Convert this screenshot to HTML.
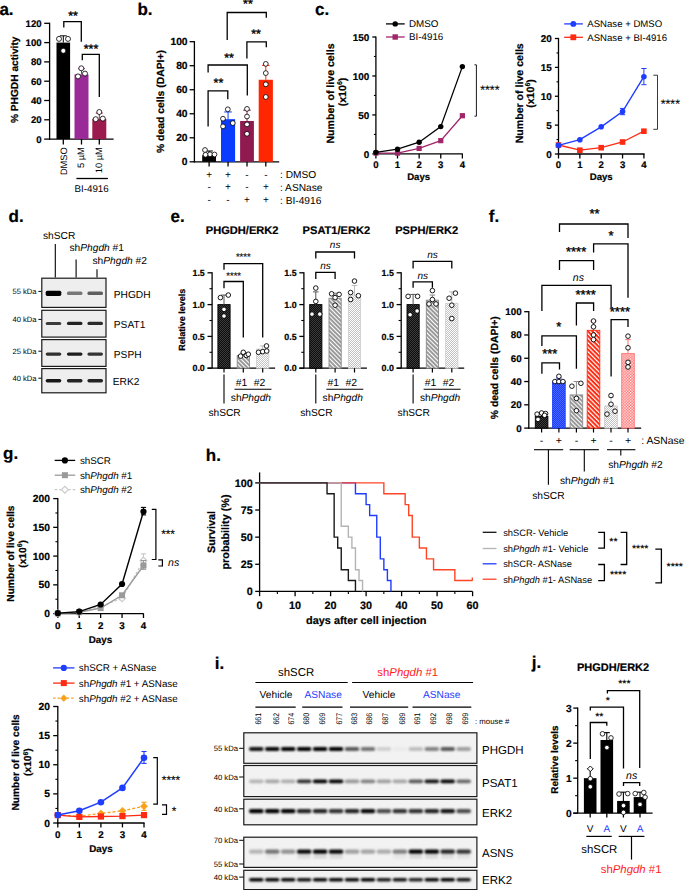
<!DOCTYPE html>
<html><head><meta charset="utf-8"><style>
html,body{margin:0;padding:0;background:#fff;width:685px;height:890px;overflow:hidden}
svg{display:block}
text{font-family:"Liberation Sans",sans-serif;text-rendering:geometricPrecision}
</style></head><body>
<svg width="685" height="890" viewBox="0 0 685 890">
<defs>
<filter id="bl1" x="-30%" y="-100%" width="160%" height="300%"><feGaussianBlur stdDeviation="0.9 0.7"/></filter>
<filter id="bl2" x="-30%" y="-100%" width="160%" height="300%"><feGaussianBlur stdDeviation="0.7 0.5"/></filter>
<filter id="bl3" x="-30%" y="-100%" width="160%" height="300%"><feGaussianBlur stdDeviation="0.9 0.8"/></filter>

<pattern id="pDark" width="2" height="2" patternUnits="userSpaceOnUse"><rect width="2" height="2" fill="#0d0d0d"/><rect width="1" height="1" fill="#3c3c3c"/><rect x="1" y="1" width="1" height="1" fill="#3c3c3c"/></pattern>
<pattern id="pHatchG" width="3" height="3" patternUnits="userSpaceOnUse" patternTransform="rotate(-45)"><rect width="3" height="3" fill="#9a9a9a"/><rect width="1.0" height="3" fill="#fff"/></pattern>
<pattern id="pCheckL" width="2" height="2" patternUnits="userSpaceOnUse"><rect width="2" height="2" fill="#c2c2c2"/><rect width="1" height="1" fill="#fff"/><rect x="1" y="1" width="1" height="1" fill="#fff"/></pattern>
<pattern id="pBlue" width="2" height="2" patternUnits="userSpaceOnUse"><rect width="2" height="2" fill="#1a3cff"/><rect width="1" height="1" fill="#4d68ff"/><rect x="1" y="1" width="1" height="1" fill="#4d68ff"/></pattern>
<pattern id="pHatchR" width="3.2" height="3.2" patternUnits="userSpaceOnUse" patternTransform="rotate(-45)"><rect width="3.2" height="3.2" fill="#ff2a10"/><rect width="1.2" height="3.2" fill="#fff"/></pattern>
<pattern id="pCheckP" width="2.8" height="2.8" patternUnits="userSpaceOnUse"><rect width="2.8" height="2.8" fill="#ff6a6a"/><rect width="1.3" height="1.3" fill="#fff"/><rect x="1.4" y="1.4" width="1.3" height="1.3" fill="#fff"/></pattern>
<pattern id="pCheckLL" width="2" height="2" patternUnits="userSpaceOnUse"><rect width="2" height="2" fill="#c2c2c2"/><rect width="1" height="1" fill="#fff"/><rect x="1" y="1" width="1" height="1" fill="#fff"/></pattern>
</defs>
<text x="-0.6" y="14.8" font-size="17" text-anchor="start" fill="#000" stroke="#000" stroke-width="0.2" font-weight="bold" >a.</text>
<line x1="49.6" y1="22.7" x2="49.6" y2="139.7" stroke="#000" stroke-width="1.3" />
<line x1="44.2" y1="139.1" x2="49.6" y2="139.1" stroke="#000" stroke-width="1.3" />
<text x="41.6" y="142.5" font-size="9.6" text-anchor="end" fill="#000" stroke="#000" stroke-width="0.2" font-weight="bold" >0</text>
<line x1="44.2" y1="119.8" x2="49.6" y2="119.8" stroke="#000" stroke-width="1.3" />
<text x="41.6" y="123.2" font-size="9.6" text-anchor="end" fill="#000" stroke="#000" stroke-width="0.2" font-weight="bold" >20</text>
<line x1="44.2" y1="100.5" x2="49.6" y2="100.5" stroke="#000" stroke-width="1.3" />
<text x="41.6" y="103.9" font-size="9.6" text-anchor="end" fill="#000" stroke="#000" stroke-width="0.2" font-weight="bold" >40</text>
<line x1="44.2" y1="81.2" x2="49.6" y2="81.2" stroke="#000" stroke-width="1.3" />
<text x="41.6" y="84.6" font-size="9.6" text-anchor="end" fill="#000" stroke="#000" stroke-width="0.2" font-weight="bold" >60</text>
<line x1="44.2" y1="61.9" x2="49.6" y2="61.9" stroke="#000" stroke-width="1.3" />
<text x="41.6" y="65.3" font-size="9.6" text-anchor="end" fill="#000" stroke="#000" stroke-width="0.2" font-weight="bold" >80</text>
<line x1="44.2" y1="42.6" x2="49.6" y2="42.6" stroke="#000" stroke-width="1.3" />
<text x="41.6" y="46" font-size="9.6" text-anchor="end" fill="#000" stroke="#000" stroke-width="0.2" font-weight="bold" >100</text>
<line x1="44.2" y1="23.3" x2="49.6" y2="23.3" stroke="#000" stroke-width="1.3" />
<text x="41.6" y="26.7" font-size="9.6" text-anchor="end" fill="#000" stroke="#000" stroke-width="0.2" font-weight="bold" >120</text>
<line x1="49" y1="139.1" x2="113.6" y2="139.1" stroke="#000" stroke-width="1.3" />
<text x="18.2" y="79.8" font-size="10.2" text-anchor="middle" fill="#000" stroke="#000" stroke-width="0.2" font-weight="bold" transform="rotate(-90 18.2 79.8)" >% PHGDH activity</text>
<rect x="56.5" y="42.6" width="13.6" height="96.5" fill="#000" stroke="none" stroke-width="0" />
<line x1="63.3" y1="42.6" x2="63.3" y2="35.84" stroke="#000" stroke-width="1" />
<line x1="59.8" y1="35.84" x2="66.8" y2="35.84" stroke="#000" stroke-width="1" />
<line x1="63.3" y1="139.1" x2="63.3" y2="144.5" stroke="#000" stroke-width="1.3" />
<rect x="74.5" y="74.44" width="14" height="64.66" fill="#9a2a98" stroke="none" stroke-width="0" />
<line x1="81.5" y1="74.44" x2="81.5" y2="68.66" stroke="#9a2a98" stroke-width="1" />
<line x1="78" y1="68.66" x2="85" y2="68.66" stroke="#9a2a98" stroke-width="1" />
<line x1="81.5" y1="139.1" x2="81.5" y2="144.5" stroke="#000" stroke-width="1.3" />
<rect x="92.3" y="118.83" width="14" height="20.27" fill="#9b1b4e" stroke="none" stroke-width="0" />
<line x1="99.3" y1="118.83" x2="99.3" y2="113.04" stroke="#9b1b4e" stroke-width="1" />
<line x1="95.8" y1="113.04" x2="102.8" y2="113.04" stroke="#9b1b4e" stroke-width="1" />
<line x1="99.3" y1="139.1" x2="99.3" y2="144.5" stroke="#000" stroke-width="1.3" />
<circle cx="59" cy="38.9" r="2.5" fill="#fff" stroke="#000" stroke-width="0.8"/>
<circle cx="68" cy="38.9" r="2.5" fill="#fff" stroke="#000" stroke-width="0.8"/>
<circle cx="63.3" cy="50.8" r="2.5" fill="#fff" stroke="#000" stroke-width="0.8"/>
<circle cx="81.3" cy="68.3" r="2.5" fill="#fff" stroke="#000" stroke-width="0.8"/>
<circle cx="78" cy="76.4" r="2.5" fill="#fff" stroke="#000" stroke-width="0.8"/>
<circle cx="85" cy="73.6" r="2.5" fill="#fff" stroke="#000" stroke-width="0.8"/>
<circle cx="99.3" cy="112" r="2.5" fill="#fff" stroke="#000" stroke-width="0.8"/>
<circle cx="95.7" cy="119.2" r="2.5" fill="#fff" stroke="#000" stroke-width="0.8"/>
<circle cx="102.8" cy="118.6" r="2.5" fill="#fff" stroke="#000" stroke-width="0.8"/>
<text x="66.8" y="147.2" font-size="9.3" text-anchor="end" fill="#000" stroke="#000" stroke-width="0.0" transform="rotate(-90 66.8 147.2)" >DMSO</text>
<text x="84.1" y="147.2" font-size="9.3" text-anchor="end" fill="#000" stroke="#000" stroke-width="0.0" transform="rotate(-90 84.1 147.2)" >5 µM</text>
<text x="102.1" y="147.2" font-size="9.3" text-anchor="end" fill="#000" stroke="#000" stroke-width="0.0" transform="rotate(-90 102.1 147.2)" >10 µM</text>
<line x1="76.4" y1="178.5" x2="107.9" y2="178.5" stroke="#000" stroke-width="1.3" />
<text x="91.6" y="191.6" font-size="9.8" text-anchor="middle" fill="#000" stroke="#000" stroke-width="0.0" >BI-4916</text>
<polyline points="63.8,27.6 63.8,21.7 81.3,21.7 81.3,41.8" fill="none" stroke="#000" stroke-width="1.3" stroke-linejoin="miter" />
<text x="73" y="19.9" font-size="12.5" text-anchor="middle" fill="#000" stroke="#000" stroke-width="0.35" >**</text>
<polyline points="82.3,60.3 82.3,54.4 99.3,54.4 99.3,97" fill="none" stroke="#000" stroke-width="1.3" stroke-linejoin="miter" />
<text x="91" y="53" font-size="12.5" text-anchor="middle" fill="#000" stroke="#000" stroke-width="0.35" >***</text>
<text x="137.4" y="14.6" font-size="17" text-anchor="start" fill="#000" stroke="#000" stroke-width="0.2" font-weight="bold" >b.</text>
<line x1="194.4" y1="41.1" x2="194.4" y2="162.4" stroke="#000" stroke-width="1.3" />
<line x1="189.6" y1="161.8" x2="194.4" y2="161.8" stroke="#000" stroke-width="1.3" />
<text x="187.6" y="165.4" font-size="10.3" text-anchor="end" fill="#000" stroke="#000" stroke-width="0.2" font-weight="bold" >0</text>
<line x1="189.6" y1="137.78" x2="194.4" y2="137.78" stroke="#000" stroke-width="1.3" />
<text x="187.6" y="141.38" font-size="10.3" text-anchor="end" fill="#000" stroke="#000" stroke-width="0.2" font-weight="bold" >20</text>
<line x1="189.6" y1="113.76" x2="194.4" y2="113.76" stroke="#000" stroke-width="1.3" />
<text x="187.6" y="117.36" font-size="10.3" text-anchor="end" fill="#000" stroke="#000" stroke-width="0.2" font-weight="bold" >40</text>
<line x1="189.6" y1="89.74" x2="194.4" y2="89.74" stroke="#000" stroke-width="1.3" />
<text x="187.6" y="93.34" font-size="10.3" text-anchor="end" fill="#000" stroke="#000" stroke-width="0.2" font-weight="bold" >60</text>
<line x1="189.6" y1="65.72" x2="194.4" y2="65.72" stroke="#000" stroke-width="1.3" />
<text x="187.6" y="69.32" font-size="10.3" text-anchor="end" fill="#000" stroke="#000" stroke-width="0.2" font-weight="bold" >80</text>
<line x1="189.6" y1="41.7" x2="194.4" y2="41.7" stroke="#000" stroke-width="1.3" />
<text x="187.6" y="45.3" font-size="10.3" text-anchor="end" fill="#000" stroke="#000" stroke-width="0.2" font-weight="bold" >100</text>
<line x1="193.8" y1="161.8" x2="279.2" y2="161.8" stroke="#000" stroke-width="1.3" />
<text x="164" y="101.5" font-size="10.4" text-anchor="middle" fill="#000" stroke="#000" stroke-width="0.2" font-weight="bold" transform="rotate(-90 164 101.5)" >% dead cells (DAPI+)</text>
<rect x="202.2" y="155.19" width="13.8" height="6.61" fill="#000" stroke="none" stroke-width="0" />
<line x1="209.1" y1="155.19" x2="209.1" y2="150.99" stroke="#000" stroke-width="1" />
<line x1="205.3" y1="150.99" x2="212.9" y2="150.99" stroke="#000" stroke-width="1" />
<line x1="209.1" y1="161.8" x2="209.1" y2="166.5" stroke="#000" stroke-width="1.3" />
<circle cx="205" cy="150" r="2.4" fill="#fff" stroke="#000" stroke-width="0.8"/>
<circle cx="210" cy="154.3" r="2.4" fill="#fff" stroke="#000" stroke-width="0.8"/>
<circle cx="214.5" cy="154.5" r="2.4" fill="#fff" stroke="#000" stroke-width="0.8"/>
<circle cx="205.5" cy="154.8" r="2.4" fill="#fff" stroke="#000" stroke-width="0.8"/>
<rect x="221" y="119.16" width="14.1" height="42.64" fill="#0a3cff" stroke="none" stroke-width="0" />
<line x1="228.05" y1="119.16" x2="228.05" y2="111.96" stroke="#0a3cff" stroke-width="1" />
<line x1="224.25" y1="111.96" x2="231.85" y2="111.96" stroke="#0a3cff" stroke-width="1" />
<line x1="228.05" y1="161.8" x2="228.05" y2="166.5" stroke="#000" stroke-width="1.3" />
<circle cx="227.8" cy="109.3" r="2.4" fill="#fff" stroke="#000" stroke-width="0.8"/>
<circle cx="223" cy="118.7" r="2.4" fill="#fff" stroke="#000" stroke-width="0.8"/>
<circle cx="232.8" cy="123.1" r="2.4" fill="#fff" stroke="#000" stroke-width="0.8"/>
<circle cx="223" cy="126.4" r="2.4" fill="#fff" stroke="#000" stroke-width="0.8"/>
<rect x="240.1" y="120.97" width="13.8" height="40.83" fill="#8e1a50" stroke="none" stroke-width="0" />
<line x1="247" y1="120.97" x2="247" y2="110.16" stroke="#8e1a50" stroke-width="1" />
<line x1="243.2" y1="110.16" x2="250.8" y2="110.16" stroke="#8e1a50" stroke-width="1" />
<line x1="247" y1="161.8" x2="247" y2="166.5" stroke="#000" stroke-width="1.3" />
<circle cx="247" cy="108.9" r="2.4" fill="#fff" stroke="#000" stroke-width="0.8"/>
<circle cx="247" cy="116.5" r="2.4" fill="#fff" stroke="#000" stroke-width="0.8"/>
<circle cx="247" cy="124.4" r="2.4" fill="#fff" stroke="#000" stroke-width="0.8"/>
<circle cx="247" cy="133.8" r="2.4" fill="#fff" stroke="#000" stroke-width="0.8"/>
<rect x="258.7" y="79.77" width="14.2" height="82.03" fill="#ff2600" stroke="none" stroke-width="0" />
<line x1="265.8" y1="79.77" x2="265.8" y2="65.36" stroke="#ff2600" stroke-width="1" />
<line x1="262" y1="65.36" x2="269.6" y2="65.36" stroke="#ff2600" stroke-width="1" />
<line x1="265.8" y1="161.8" x2="265.8" y2="166.5" stroke="#000" stroke-width="1.3" />
<circle cx="265.8" cy="63.9" r="2.4" fill="#fff" stroke="#000" stroke-width="0.8"/>
<circle cx="265.8" cy="73.1" r="2.4" fill="#fff" stroke="#000" stroke-width="0.8"/>
<circle cx="265.8" cy="84.3" r="2.4" fill="#fff" stroke="#000" stroke-width="0.8"/>
<circle cx="265.8" cy="97" r="2.4" fill="#fff" stroke="#000" stroke-width="0.8"/>
<text x="209.1" y="177.8" font-size="10" text-anchor="middle" fill="#000" stroke="#000" stroke-width="0.0" >+</text>
<text x="228" y="177.8" font-size="10" text-anchor="middle" fill="#000" stroke="#000" stroke-width="0.0" >+</text>
<text x="247" y="177.8" font-size="10" text-anchor="middle" fill="#000" stroke="#000" stroke-width="0.0" >-</text>
<text x="265.8" y="177.8" font-size="10" text-anchor="middle" fill="#000" stroke="#000" stroke-width="0.0" >-</text>
<text x="280" y="178.1" font-size="10.2" text-anchor="start" fill="#000" stroke="#000" stroke-width="0.0" >: DMSO</text>
<text x="209.1" y="190.3" font-size="10" text-anchor="middle" fill="#000" stroke="#000" stroke-width="0.0" >-</text>
<text x="228" y="190.3" font-size="10" text-anchor="middle" fill="#000" stroke="#000" stroke-width="0.0" >+</text>
<text x="247" y="190.3" font-size="10" text-anchor="middle" fill="#000" stroke="#000" stroke-width="0.0" >-</text>
<text x="265.8" y="190.3" font-size="10" text-anchor="middle" fill="#000" stroke="#000" stroke-width="0.0" >+</text>
<text x="280" y="190.6" font-size="10.2" text-anchor="start" fill="#000" stroke="#000" stroke-width="0.0" >: ASNase</text>
<text x="209.1" y="203.3" font-size="10" text-anchor="middle" fill="#000" stroke="#000" stroke-width="0.0" >-</text>
<text x="228" y="203.3" font-size="10" text-anchor="middle" fill="#000" stroke="#000" stroke-width="0.0" >-</text>
<text x="247" y="203.3" font-size="10" text-anchor="middle" fill="#000" stroke="#000" stroke-width="0.0" >+</text>
<text x="265.8" y="203.3" font-size="10" text-anchor="middle" fill="#000" stroke="#000" stroke-width="0.0" >+</text>
<text x="280" y="203.6" font-size="10.2" text-anchor="start" fill="#000" stroke="#000" stroke-width="0.0" >: BI-4916</text>
<polyline points="227.2,40 227.2,12.5 266.3,12.5 266.3,17.7" fill="none" stroke="#000" stroke-width="1.3" stroke-linejoin="miter" />
<text x="247.9" y="7.6" font-size="12.5" text-anchor="middle" fill="#000" stroke="#000" stroke-width="0.35" >**</text>
<polyline points="246.9,58.4 246.9,41.8 266.3,41.8 266.3,47.3" fill="none" stroke="#000" stroke-width="1.3" stroke-linejoin="miter" />
<text x="256" y="38" font-size="12.5" text-anchor="middle" fill="#000" stroke="#000" stroke-width="0.35" >**</text>
<polyline points="208.1,72.5 208.1,65 247.3,65 247.3,95.5" fill="none" stroke="#000" stroke-width="1.3" stroke-linejoin="miter" />
<text x="229" y="61.8" font-size="12.5" text-anchor="middle" fill="#000" stroke="#000" stroke-width="0.35" >**</text>
<polyline points="208.1,126.4 208.1,90.9 227.8,90.9 227.8,99.2" fill="none" stroke="#000" stroke-width="1.3" stroke-linejoin="miter" />
<text x="218.4" y="87.3" font-size="12.5" text-anchor="middle" fill="#000" stroke="#000" stroke-width="0.35" >**</text>
<text x="315" y="14.6" font-size="17" text-anchor="start" fill="#000" stroke="#000" stroke-width="0.2" font-weight="bold" >c.</text>
<line x1="375.9" y1="36.4" x2="375.9" y2="154.5" stroke="#000" stroke-width="1.3" />
<line x1="372.3" y1="153.9" x2="375.9" y2="153.9" stroke="#000" stroke-width="1.3" />
<text x="369.2" y="157.5" font-size="9.9" text-anchor="end" fill="#000" stroke="#000" stroke-width="0.2" font-weight="bold" >0</text>
<line x1="373.9" y1="134.42" x2="375.9" y2="134.42" stroke="#000" stroke-width="1.1" />
<line x1="372.3" y1="114.93" x2="375.9" y2="114.93" stroke="#000" stroke-width="1.3" />
<text x="369.2" y="118.53" font-size="9.9" text-anchor="end" fill="#000" stroke="#000" stroke-width="0.2" font-weight="bold" >50</text>
<line x1="373.9" y1="95.45" x2="375.9" y2="95.45" stroke="#000" stroke-width="1.1" />
<line x1="372.3" y1="75.97" x2="375.9" y2="75.97" stroke="#000" stroke-width="1.3" />
<text x="369.2" y="79.57" font-size="9.9" text-anchor="end" fill="#000" stroke="#000" stroke-width="0.2" font-weight="bold" >100</text>
<line x1="373.9" y1="56.48" x2="375.9" y2="56.48" stroke="#000" stroke-width="1.1" />
<line x1="372.3" y1="37" x2="375.9" y2="37" stroke="#000" stroke-width="1.3" />
<text x="369.2" y="40.6" font-size="9.9" text-anchor="end" fill="#000" stroke="#000" stroke-width="0.2" font-weight="bold" >150</text>
<line x1="375.3" y1="153.9" x2="462.8" y2="153.9" stroke="#000" stroke-width="1.3" />
<line x1="375.9" y1="153.9" x2="375.9" y2="158.5" stroke="#000" stroke-width="1.3" />
<text x="375.9" y="167.8" font-size="9.6" text-anchor="middle" fill="#000" stroke="#000" stroke-width="0.2" font-weight="bold" >0</text>
<line x1="397.52" y1="153.9" x2="397.52" y2="158.5" stroke="#000" stroke-width="1.3" />
<text x="397.52" y="167.8" font-size="9.6" text-anchor="middle" fill="#000" stroke="#000" stroke-width="0.2" font-weight="bold" >1</text>
<line x1="419.14" y1="153.9" x2="419.14" y2="158.5" stroke="#000" stroke-width="1.3" />
<text x="419.14" y="167.8" font-size="9.6" text-anchor="middle" fill="#000" stroke="#000" stroke-width="0.2" font-weight="bold" >2</text>
<line x1="440.76" y1="153.9" x2="440.76" y2="158.5" stroke="#000" stroke-width="1.3" />
<text x="440.76" y="167.8" font-size="9.6" text-anchor="middle" fill="#000" stroke="#000" stroke-width="0.2" font-weight="bold" >3</text>
<line x1="462.38" y1="153.9" x2="462.38" y2="158.5" stroke="#000" stroke-width="1.3" />
<text x="462.38" y="167.8" font-size="9.6" text-anchor="middle" fill="#000" stroke="#000" stroke-width="0.2" font-weight="bold" >4</text>
<text x="418.6" y="180" font-size="9.6" text-anchor="middle" fill="#000" stroke="#000" stroke-width="0.2" font-weight="bold" >Days</text>
<text x="333.9" y="93.5" font-size="10.6" text-anchor="middle" fill="#000" stroke="#000" stroke-width="0.2" font-weight="bold" transform="rotate(-90 333.9 93.5)" >Number of live cells</text>
<text x="345.9" y="92" font-size="10.6" text-anchor="middle" fill="#000" stroke="#000" stroke-width="0.2" font-weight="bold" transform="rotate(-90 345.9 92)" >(x10<tspan font-size="7" dy="-3.8">6</tspan><tspan dy="3.8">)</tspan></text>
<polyline points="375.9,153.12 397.52,153.12 419.14,148.44 440.76,140.65 462.38,115.71" fill="none" stroke="#a0266a" stroke-width="1.3" stroke-linejoin="miter" />
<rect x="373.3" y="150.52" width="5.2" height="5.2" fill="#a0266a" stroke="none" stroke-width="0" />
<rect x="394.92" y="150.52" width="5.2" height="5.2" fill="#a0266a" stroke="none" stroke-width="0" />
<rect x="416.54" y="145.84" width="5.2" height="5.2" fill="#a0266a" stroke="none" stroke-width="0" />
<rect x="438.16" y="138.05" width="5.2" height="5.2" fill="#a0266a" stroke="none" stroke-width="0" />
<rect x="459.78" y="113.11" width="5.2" height="5.2" fill="#a0266a" stroke="none" stroke-width="0" />
<polyline points="375.9,152.34 397.52,149.22 419.14,142.21 440.76,126.62 462.38,66.61" fill="none" stroke="#000" stroke-width="1.3" stroke-linejoin="miter" />
<circle cx="375.9" cy="152.34" r="2.7" fill="#000" stroke="#000" stroke-width="0"/>
<circle cx="397.52" cy="149.22" r="2.7" fill="#000" stroke="#000" stroke-width="0"/>
<circle cx="419.14" cy="142.21" r="2.7" fill="#000" stroke="#000" stroke-width="0"/>
<circle cx="440.76" cy="126.62" r="2.7" fill="#000" stroke="#000" stroke-width="0"/>
<circle cx="462.38" cy="66.61" r="2.7" fill="#000" stroke="#000" stroke-width="0"/>
<line x1="386" y1="23.9" x2="404.7" y2="23.9" stroke="#000" stroke-width="1.3" />
<circle cx="395.2" cy="23.9" r="2.7" fill="#000" stroke="#000" stroke-width="0"/>
<text x="409" y="27.3" font-size="9.8" text-anchor="start" fill="#000" stroke="#000" stroke-width="0.0" >DMSO</text>
<line x1="386" y1="37" x2="404.7" y2="37" stroke="#a0266a" stroke-width="1.3" />
<rect x="392.5" y="34.3" width="5.4" height="5.4" fill="#a0266a" stroke="none" stroke-width="0" />
<text x="409" y="40.4" font-size="9.8" text-anchor="start" fill="#000" stroke="#000" stroke-width="0.0" >BI-4916</text>
<polyline points="474.5,64.8 476.4,64.8 476.4,116.2 474.5,116.2" fill="none" stroke="#000" stroke-width="0.9" stroke-linejoin="miter" />
<text x="480.3" y="93.8" font-size="12.3" text-anchor="start" fill="#000" stroke="#000" stroke-width="0.15" >****</text>
<line x1="558.5" y1="37.9" x2="558.5" y2="154.6" stroke="#000" stroke-width="1.3" />
<line x1="554.9" y1="154" x2="558.5" y2="154" stroke="#000" stroke-width="1.3" />
<text x="551.8" y="157.6" font-size="9.9" text-anchor="end" fill="#000" stroke="#000" stroke-width="0.2" font-weight="bold" >0</text>
<line x1="556.5" y1="139.56" x2="558.5" y2="139.56" stroke="#000" stroke-width="1.1" />
<line x1="554.9" y1="125.12" x2="558.5" y2="125.12" stroke="#000" stroke-width="1.3" />
<text x="551.8" y="128.72" font-size="9.9" text-anchor="end" fill="#000" stroke="#000" stroke-width="0.2" font-weight="bold" >5</text>
<line x1="556.5" y1="110.69" x2="558.5" y2="110.69" stroke="#000" stroke-width="1.1" />
<line x1="554.9" y1="96.25" x2="558.5" y2="96.25" stroke="#000" stroke-width="1.3" />
<text x="551.8" y="99.85" font-size="9.9" text-anchor="end" fill="#000" stroke="#000" stroke-width="0.2" font-weight="bold" >10</text>
<line x1="556.5" y1="81.81" x2="558.5" y2="81.81" stroke="#000" stroke-width="1.1" />
<line x1="554.9" y1="67.38" x2="558.5" y2="67.38" stroke="#000" stroke-width="1.3" />
<text x="551.8" y="70.97" font-size="9.9" text-anchor="end" fill="#000" stroke="#000" stroke-width="0.2" font-weight="bold" >15</text>
<line x1="556.5" y1="52.94" x2="558.5" y2="52.94" stroke="#000" stroke-width="1.1" />
<line x1="554.9" y1="38.5" x2="558.5" y2="38.5" stroke="#000" stroke-width="1.3" />
<text x="551.8" y="42.1" font-size="9.9" text-anchor="end" fill="#000" stroke="#000" stroke-width="0.2" font-weight="bold" >20</text>
<line x1="557.9" y1="154" x2="644.6" y2="154" stroke="#000" stroke-width="1.3" />
<line x1="558.5" y1="154" x2="558.5" y2="158.5" stroke="#000" stroke-width="1.3" />
<text x="558.5" y="167.8" font-size="9.6" text-anchor="middle" fill="#000" stroke="#000" stroke-width="0.2" font-weight="bold" >0</text>
<line x1="579.85" y1="154" x2="579.85" y2="158.5" stroke="#000" stroke-width="1.3" />
<text x="579.85" y="167.8" font-size="9.6" text-anchor="middle" fill="#000" stroke="#000" stroke-width="0.2" font-weight="bold" >1</text>
<line x1="601.2" y1="154" x2="601.2" y2="158.5" stroke="#000" stroke-width="1.3" />
<text x="601.2" y="167.8" font-size="9.6" text-anchor="middle" fill="#000" stroke="#000" stroke-width="0.2" font-weight="bold" >2</text>
<line x1="622.55" y1="154" x2="622.55" y2="158.5" stroke="#000" stroke-width="1.3" />
<text x="622.55" y="167.8" font-size="9.6" text-anchor="middle" fill="#000" stroke="#000" stroke-width="0.2" font-weight="bold" >3</text>
<line x1="643.9" y1="154" x2="643.9" y2="158.5" stroke="#000" stroke-width="1.3" />
<text x="643.9" y="167.8" font-size="9.6" text-anchor="middle" fill="#000" stroke="#000" stroke-width="0.2" font-weight="bold" >4</text>
<text x="601.2" y="180" font-size="9.6" text-anchor="middle" fill="#000" stroke="#000" stroke-width="0.2" font-weight="bold" >Days</text>
<text x="522.6" y="93.3" font-size="10.6" text-anchor="middle" fill="#000" stroke="#000" stroke-width="0.2" font-weight="bold" transform="rotate(-90 522.6 93.3)" >Number of live cells</text>
<text x="534.2" y="93.5" font-size="10.6" text-anchor="middle" fill="#000" stroke="#000" stroke-width="0.2" font-weight="bold" transform="rotate(-90 534.2 93.5)" >(x10<tspan font-size="7" dy="-3.8">6</tspan><tspan dy="3.8">)</tspan></text>
<polyline points="558.5,145 579.85,150.2 601.2,147.7 622.55,142 643.9,131.2" fill="none" stroke="#ff2a12" stroke-width="1.3" stroke-linejoin="miter" />
<rect x="555.7" y="142.2" width="5.6" height="5.6" fill="#ff2a12" stroke="none" stroke-width="0" />
<rect x="577.05" y="147.4" width="5.6" height="5.6" fill="#ff2a12" stroke="none" stroke-width="0" />
<rect x="598.4" y="144.9" width="5.6" height="5.6" fill="#ff2a12" stroke="none" stroke-width="0" />
<rect x="619.75" y="139.2" width="5.6" height="5.6" fill="#ff2a12" stroke="none" stroke-width="0" />
<rect x="641.1" y="128.4" width="5.6" height="5.6" fill="#ff2a12" stroke="none" stroke-width="0" />
<line x1="622.55" y1="108.4" x2="622.55" y2="114.7" stroke="#1f3dff" stroke-width="1" />
<line x1="619.95" y1="108.4" x2="625.15" y2="108.4" stroke="#1f3dff" stroke-width="1" />
<line x1="619.95" y1="114.7" x2="625.15" y2="114.7" stroke="#1f3dff" stroke-width="1" />
<line x1="643.9" y1="68.5" x2="643.9" y2="84.7" stroke="#1f3dff" stroke-width="1" />
<line x1="641.3" y1="68.5" x2="646.5" y2="68.5" stroke="#1f3dff" stroke-width="1" />
<line x1="641.3" y1="84.7" x2="646.5" y2="84.7" stroke="#1f3dff" stroke-width="1" />
<polyline points="558.5,145.4 579.85,139.7 601.2,126.8 622.55,111.6 643.9,76.7" fill="none" stroke="#1f3dff" stroke-width="1.4" stroke-linejoin="miter" />
<circle cx="558.5" cy="145.4" r="2.8" fill="#1f3dff" stroke="#000" stroke-width="0"/>
<circle cx="579.85" cy="139.7" r="2.8" fill="#1f3dff" stroke="#000" stroke-width="0"/>
<circle cx="601.2" cy="126.8" r="2.8" fill="#1f3dff" stroke="#000" stroke-width="0"/>
<circle cx="622.55" cy="111.6" r="2.8" fill="#1f3dff" stroke="#000" stroke-width="0"/>
<circle cx="643.9" cy="76.7" r="2.8" fill="#1f3dff" stroke="#000" stroke-width="0"/>
<line x1="564.2" y1="23.9" x2="582.9" y2="23.9" stroke="#1f3dff" stroke-width="1.3" />
<circle cx="573.3" cy="23.9" r="2.9" fill="#1f3dff" stroke="#000" stroke-width="0"/>
<text x="587.3" y="27.3" font-size="9.6" text-anchor="start" fill="#000" stroke="#000" stroke-width="0.0" >ASNase + DMSO</text>
<line x1="564.2" y1="37.3" x2="582.9" y2="37.3" stroke="#ff2a12" stroke-width="1.3" />
<rect x="570.4" y="34.4" width="5.8" height="5.8" fill="#ff2a12" stroke="none" stroke-width="0" />
<text x="587.3" y="40.7" font-size="9.6" text-anchor="start" fill="#000" stroke="#000" stroke-width="0.0" >ASNase + BI-4916</text>
<polyline points="653.3,75.2 657.5,75.2 657.5,129.3 653.3,129.3" fill="none" stroke="#222" stroke-width="0.9" stroke-linejoin="miter" />
<text x="660.8" y="107.5" font-size="12.3" text-anchor="start" fill="#000" stroke="#000" stroke-width="0.15" >****</text>
<text x="8.5" y="222" font-size="17" text-anchor="start" fill="#000" stroke="#000" stroke-width="0.2" font-weight="bold" >d.</text>
<text x="43" y="239.1" font-size="10.2" text-anchor="start" fill="#000" stroke="#000" stroke-width="0.0" >shSCR</text>
<text x="69.5" y="251" font-size="10.2" text-anchor="start" fill="#000" stroke="#000" stroke-width="0.0" >sh<tspan font-style="italic">Phgdh</tspan> #1</text>
<text x="92.5" y="264" font-size="10.2" text-anchor="start" fill="#000" stroke="#000" stroke-width="0.0" >sh<tspan font-style="italic">Phgdh</tspan> #2</text>
<line x1="55.3" y1="244" x2="55.3" y2="277.5" stroke="#000" stroke-width="1.1" />
<line x1="76.1" y1="259.5" x2="76.1" y2="277.5" stroke="#000" stroke-width="1.1" />
<line x1="97" y1="269.2" x2="97" y2="277.5" stroke="#000" stroke-width="1.1" />
<rect x="41.8" y="278.2" width="64.2" height="29.2" fill="#eeeeee" stroke="#1a1a1a" stroke-width="1.2" />
<rect x="45.7" y="290.7" width="15.6" height="5.2" rx="1.6" fill="#000" fill-opacity="1" filter="url(#bl2)"/>
<rect x="66.9" y="291.6" width="15.6" height="3.4" rx="1.6" fill="#000" fill-opacity="0.5" filter="url(#bl2)"/>
<rect x="87.4" y="291.6" width="15.6" height="3.4" rx="1.6" fill="#000" fill-opacity="0.6" filter="url(#bl2)"/>
<text x="113.8" y="298" font-size="10.2" text-anchor="start" fill="#000" stroke="#000" stroke-width="0.0" >PHGDH</text>
<line x1="38.4" y1="291.4" x2="41.5" y2="291.4" stroke="#000" stroke-width="1" />
<text x="36.5" y="294" font-size="7.6" text-anchor="end" fill="#000" stroke="#000" stroke-width="0.0" >55 kDa</text>
<rect x="41.8" y="310.3" width="64.2" height="26.8" fill="#eeeeee" stroke="#1a1a1a" stroke-width="1.2" />
<rect x="45.7" y="321.9" width="15.6" height="3" rx="1.6" fill="#000" fill-opacity="0.75" filter="url(#bl2)"/>
<rect x="66.9" y="321.8" width="15.6" height="3.2" rx="1.6" fill="#000" fill-opacity="0.85" filter="url(#bl2)"/>
<rect x="87.4" y="321.8" width="15.6" height="3.2" rx="1.6" fill="#000" fill-opacity="0.82" filter="url(#bl2)"/>
<text x="113.8" y="327.5" font-size="10.2" text-anchor="start" fill="#000" stroke="#000" stroke-width="0.0" >PSAT1</text>
<line x1="38.4" y1="319.4" x2="41.5" y2="319.4" stroke="#000" stroke-width="1" />
<text x="36.5" y="322" font-size="7.6" text-anchor="end" fill="#000" stroke="#000" stroke-width="0.0" >40 kDa</text>
<rect x="41.8" y="339.6" width="64.2" height="26.8" fill="#eeeeee" stroke="#1a1a1a" stroke-width="1.2" />
<rect x="45.7" y="352.5" width="15.6" height="3.2" rx="1.6" fill="#000" fill-opacity="0.8" filter="url(#bl2)"/>
<rect x="66.9" y="352.5" width="15.6" height="3.2" rx="1.6" fill="#000" fill-opacity="0.88" filter="url(#bl2)"/>
<rect x="87.4" y="352.5" width="15.6" height="3.2" rx="1.6" fill="#000" fill-opacity="0.78" filter="url(#bl2)"/>
<text x="113.8" y="358" font-size="10.2" text-anchor="start" fill="#000" stroke="#000" stroke-width="0.0" >PSPH</text>
<line x1="38.4" y1="351.2" x2="41.5" y2="351.2" stroke="#000" stroke-width="1" />
<text x="36.5" y="353.8" font-size="7.6" text-anchor="end" fill="#000" stroke="#000" stroke-width="0.0" >25 kDa</text>
<rect x="41.8" y="368.6" width="64.2" height="24.2" fill="#eeeeee" stroke="#1a1a1a" stroke-width="1.2" />
<rect x="45.7" y="378.95" width="15.6" height="3.5" rx="1.6" fill="#000" fill-opacity="0.9" filter="url(#bl2)"/>
<rect x="66.9" y="379" width="15.6" height="3.4" rx="1.6" fill="#000" fill-opacity="0.85" filter="url(#bl2)"/>
<rect x="87.4" y="379" width="15.6" height="3.4" rx="1.6" fill="#000" fill-opacity="0.85" filter="url(#bl2)"/>
<text x="112.8" y="385.1" font-size="10.2" text-anchor="start" fill="#000" stroke="#000" stroke-width="0.0" >ERK2</text>
<line x1="38.4" y1="378.2" x2="41.5" y2="378.2" stroke="#000" stroke-width="1" />
<text x="36.5" y="380.8" font-size="7.6" text-anchor="end" fill="#000" stroke="#000" stroke-width="0.0" >40 kDa</text>
<text x="170.5" y="222" font-size="17" text-anchor="start" fill="#000" stroke="#000" stroke-width="0.2" font-weight="bold" >e.</text>
<text x="205.8" y="233.6" font-size="11.1" text-anchor="start" fill="#000" stroke="#000" stroke-width="0.2" font-weight="bold" >PHGDH/ERK2</text>
<line x1="212.1" y1="272.2" x2="212.1" y2="368.2" stroke="#000" stroke-width="1.3" />
<line x1="207.5" y1="368.2" x2="212.1" y2="368.2" stroke="#000" stroke-width="1.3" />
<text x="204.8" y="371.4" font-size="8.9" text-anchor="end" fill="#000" stroke="#000" stroke-width="0.2" font-weight="bold" >0.0</text>
<line x1="209.5" y1="352.3" x2="212.1" y2="352.3" stroke="#000" stroke-width="1.1" />
<line x1="207.5" y1="336.4" x2="212.1" y2="336.4" stroke="#000" stroke-width="1.3" />
<text x="204.8" y="339.6" font-size="8.9" text-anchor="end" fill="#000" stroke="#000" stroke-width="0.2" font-weight="bold" >0.5</text>
<line x1="209.5" y1="320.5" x2="212.1" y2="320.5" stroke="#000" stroke-width="1.1" />
<line x1="207.5" y1="304.6" x2="212.1" y2="304.6" stroke="#000" stroke-width="1.3" />
<text x="204.8" y="307.8" font-size="8.9" text-anchor="end" fill="#000" stroke="#000" stroke-width="0.2" font-weight="bold" >1.0</text>
<line x1="209.5" y1="288.7" x2="212.1" y2="288.7" stroke="#000" stroke-width="1.1" />
<line x1="207.5" y1="272.8" x2="212.1" y2="272.8" stroke="#000" stroke-width="1.3" />
<text x="204.8" y="276" font-size="8.9" text-anchor="end" fill="#000" stroke="#000" stroke-width="0.2" font-weight="bold" >1.5</text>
<line x1="207.5" y1="368.2" x2="275.1" y2="368.2" stroke="#000" stroke-width="1.3" />
<rect x="217.9" y="304.6" width="12.2" height="63.6" fill="url(#pDark)" stroke="#000" stroke-width="0.9" />
<line x1="224" y1="304.6" x2="224" y2="295.06" stroke="#555" stroke-width="1" />
<line x1="221.2" y1="295.06" x2="226.8" y2="295.06" stroke="#555" stroke-width="1" />
<line x1="224" y1="368.2" x2="224" y2="372.5" stroke="#000" stroke-width="1.2" />
<circle cx="220.4" cy="297.6" r="2.3" fill="#fff" stroke="#000" stroke-width="0.9"/>
<circle cx="228.3" cy="295.06" r="2.3" fill="#fff" stroke="#000" stroke-width="0.9"/>
<circle cx="224" cy="309.37" r="2.3" fill="#fff" stroke="#000" stroke-width="0.9"/>
<circle cx="224" cy="316.05" r="2.3" fill="#fff" stroke="#000" stroke-width="0.9"/>
<rect x="237.2" y="355.48" width="12.2" height="12.72" fill="url(#pHatchG)" stroke="#888" stroke-width="0.9" />
<line x1="243.3" y1="355.48" x2="243.3" y2="352.94" stroke="#888" stroke-width="1" />
<line x1="240.5" y1="352.94" x2="246.1" y2="352.94" stroke="#888" stroke-width="1" />
<line x1="243.3" y1="368.2" x2="243.3" y2="372.5" stroke="#000" stroke-width="1.2" />
<circle cx="240.6" cy="356.12" r="2.3" fill="#fff" stroke="#000" stroke-width="0.9"/>
<circle cx="243.3" cy="352.3" r="2.3" fill="#fff" stroke="#000" stroke-width="0.9"/>
<circle cx="246.3" cy="355.48" r="2.3" fill="#fff" stroke="#000" stroke-width="0.9"/>
<circle cx="248.3" cy="354.21" r="2.3" fill="#fff" stroke="#000" stroke-width="0.9"/>
<rect x="256.6" y="349.12" width="12.2" height="19.08" fill="url(#pCheckL)" stroke="#cfcfcf" stroke-width="0.9" />
<line x1="262.7" y1="349.12" x2="262.7" y2="345.94" stroke="#bbb" stroke-width="1" />
<line x1="259.9" y1="345.94" x2="265.5" y2="345.94" stroke="#bbb" stroke-width="1" />
<line x1="262.7" y1="368.2" x2="262.7" y2="372.5" stroke="#000" stroke-width="1.2" />
<circle cx="258.5" cy="352.3" r="2.3" fill="#fff" stroke="#000" stroke-width="0.9"/>
<circle cx="262.7" cy="351.66" r="2.3" fill="#fff" stroke="#000" stroke-width="0.9"/>
<circle cx="266.7" cy="351.03" r="2.3" fill="#fff" stroke="#000" stroke-width="0.9"/>
<circle cx="266.5" cy="345.94" r="2.3" fill="#fff" stroke="#000" stroke-width="0.9"/>
<text x="241.5" y="385.8" font-size="10.4" text-anchor="middle" fill="#000" stroke="#000" stroke-width="0.0" >#1</text>
<text x="259.5" y="385.8" font-size="10.4" text-anchor="middle" fill="#000" stroke="#000" stroke-width="0.0" >#2</text>
<line x1="234.5" y1="389.2" x2="271.5" y2="389.2" stroke="#000" stroke-width="1.1" />
<text x="250.9" y="401.4" font-size="10.2" text-anchor="middle" fill="#000" stroke="#000" stroke-width="0.0" >sh<tspan font-style="italic">Phgdh</tspan></text>
<line x1="224" y1="374.5" x2="224" y2="403.4" stroke="#000" stroke-width="1.1" />
<text x="224.6" y="415.7" font-size="10.2" text-anchor="middle" fill="#000" stroke="#000" stroke-width="0.0" >shSCR</text>
<polyline points="224,269.8 224,263.7 262.7,263.7 262.7,337.5" fill="none" stroke="#000" stroke-width="1.3" stroke-linejoin="miter" />
<text x="243.35" y="259.8" font-size="9.6" text-anchor="middle" fill="#000" stroke="#000" stroke-width="0.15" >****</text>
<polyline points="224,288.3 224,281.5 243.3,281.5 243.3,337.5" fill="none" stroke="#000" stroke-width="1.3" stroke-linejoin="miter" />
<text x="233.65" y="279" font-size="9.6" text-anchor="middle" fill="#000" stroke="#000" stroke-width="0.15" >****</text>
<text x="302.6" y="233.6" font-size="11.1" text-anchor="start" fill="#000" stroke="#000" stroke-width="0.2" font-weight="bold" >PSAT1/ERK2</text>
<line x1="303.9" y1="272.2" x2="303.9" y2="368.2" stroke="#000" stroke-width="1.3" />
<line x1="299.3" y1="368.2" x2="303.9" y2="368.2" stroke="#000" stroke-width="1.3" />
<text x="296.6" y="371.4" font-size="8.9" text-anchor="end" fill="#000" stroke="#000" stroke-width="0.2" font-weight="bold" >0.0</text>
<line x1="301.3" y1="352.3" x2="303.9" y2="352.3" stroke="#000" stroke-width="1.1" />
<line x1="299.3" y1="336.4" x2="303.9" y2="336.4" stroke="#000" stroke-width="1.3" />
<text x="296.6" y="339.6" font-size="8.9" text-anchor="end" fill="#000" stroke="#000" stroke-width="0.2" font-weight="bold" >0.5</text>
<line x1="301.3" y1="320.5" x2="303.9" y2="320.5" stroke="#000" stroke-width="1.1" />
<line x1="299.3" y1="304.6" x2="303.9" y2="304.6" stroke="#000" stroke-width="1.3" />
<text x="296.6" y="307.8" font-size="8.9" text-anchor="end" fill="#000" stroke="#000" stroke-width="0.2" font-weight="bold" >1.0</text>
<line x1="301.3" y1="288.7" x2="303.9" y2="288.7" stroke="#000" stroke-width="1.1" />
<line x1="299.3" y1="272.8" x2="303.9" y2="272.8" stroke="#000" stroke-width="1.3" />
<text x="296.6" y="276" font-size="8.9" text-anchor="end" fill="#000" stroke="#000" stroke-width="0.2" font-weight="bold" >1.5</text>
<line x1="299.3" y1="368.2" x2="366.9" y2="368.2" stroke="#000" stroke-width="1.3" />
<rect x="309.7" y="304.6" width="12.2" height="63.6" fill="url(#pDark)" stroke="#000" stroke-width="0.9" />
<line x1="315.8" y1="304.6" x2="315.8" y2="291.88" stroke="#555" stroke-width="1" />
<line x1="313" y1="291.88" x2="318.6" y2="291.88" stroke="#555" stroke-width="1" />
<line x1="315.8" y1="368.2" x2="315.8" y2="372.5" stroke="#000" stroke-width="1.2" />
<circle cx="315.8" cy="288.06" r="2.3" fill="#fff" stroke="#000" stroke-width="0.9"/>
<circle cx="315.8" cy="301.42" r="2.3" fill="#fff" stroke="#000" stroke-width="0.9"/>
<circle cx="312" cy="314.14" r="2.3" fill="#fff" stroke="#000" stroke-width="0.9"/>
<circle cx="319.8" cy="314.14" r="2.3" fill="#fff" stroke="#000" stroke-width="0.9"/>
<rect x="329" y="298.24" width="12.2" height="69.96" fill="url(#pHatchG)" stroke="#888" stroke-width="0.9" />
<line x1="335.1" y1="298.24" x2="335.1" y2="293.15" stroke="#888" stroke-width="1" />
<line x1="332.3" y1="293.15" x2="337.9" y2="293.15" stroke="#888" stroke-width="1" />
<line x1="335.1" y1="368.2" x2="335.1" y2="372.5" stroke="#000" stroke-width="1.2" />
<circle cx="331.6" cy="293.79" r="2.3" fill="#fff" stroke="#000" stroke-width="0.9"/>
<circle cx="335.1" cy="297.6" r="2.3" fill="#fff" stroke="#000" stroke-width="0.9"/>
<circle cx="339.1" cy="294.42" r="2.3" fill="#fff" stroke="#000" stroke-width="0.9"/>
<circle cx="335.1" cy="305.24" r="2.3" fill="#fff" stroke="#000" stroke-width="0.9"/>
<rect x="348.4" y="295.06" width="12.2" height="73.14" fill="url(#pCheckL)" stroke="#cfcfcf" stroke-width="0.9" />
<line x1="354.5" y1="295.06" x2="354.5" y2="285.52" stroke="#bbb" stroke-width="1" />
<line x1="351.7" y1="285.52" x2="357.3" y2="285.52" stroke="#bbb" stroke-width="1" />
<line x1="354.5" y1="368.2" x2="354.5" y2="372.5" stroke="#000" stroke-width="1.2" />
<circle cx="354.5" cy="281.07" r="2.3" fill="#fff" stroke="#000" stroke-width="0.9"/>
<circle cx="350.6" cy="292.52" r="2.3" fill="#fff" stroke="#000" stroke-width="0.9"/>
<circle cx="358.4" cy="295.7" r="2.3" fill="#fff" stroke="#000" stroke-width="0.9"/>
<circle cx="350.6" cy="299.51" r="2.3" fill="#fff" stroke="#000" stroke-width="0.9"/>
<text x="333.3" y="385.8" font-size="10.4" text-anchor="middle" fill="#000" stroke="#000" stroke-width="0.0" >#1</text>
<text x="351.3" y="385.8" font-size="10.4" text-anchor="middle" fill="#000" stroke="#000" stroke-width="0.0" >#2</text>
<line x1="326.3" y1="389.2" x2="363.3" y2="389.2" stroke="#000" stroke-width="1.1" />
<text x="342.7" y="401.4" font-size="10.2" text-anchor="middle" fill="#000" stroke="#000" stroke-width="0.0" >sh<tspan font-style="italic">Phgdh</tspan></text>
<line x1="315.8" y1="374.5" x2="315.8" y2="403.4" stroke="#000" stroke-width="1.1" />
<text x="316.4" y="415.7" font-size="10.2" text-anchor="middle" fill="#000" stroke="#000" stroke-width="0.0" >shSCR</text>
<polyline points="315.8,258.6 315.8,252 354.5,252 354.5,258.6" fill="none" stroke="#000" stroke-width="1.3" stroke-linejoin="miter" />
<text x="335.15" y="248.4" font-size="10" text-anchor="middle" fill="#000" stroke="#000" stroke-width="0.0" font-style="italic" >ns</text>
<polyline points="315.8,279 315.8,272.4 335.1,272.4 335.1,279" fill="none" stroke="#000" stroke-width="1.3" stroke-linejoin="miter" />
<text x="325.45" y="268.8" font-size="10" text-anchor="middle" fill="#000" stroke="#000" stroke-width="0.0" font-style="italic" >ns</text>
<text x="395.2" y="233.6" font-size="11.1" text-anchor="start" fill="#000" stroke="#000" stroke-width="0.2" font-weight="bold" >PSPH/ERK2</text>
<line x1="401.2" y1="272.2" x2="401.2" y2="368.2" stroke="#000" stroke-width="1.3" />
<line x1="396.6" y1="368.2" x2="401.2" y2="368.2" stroke="#000" stroke-width="1.3" />
<text x="393.9" y="371.4" font-size="8.9" text-anchor="end" fill="#000" stroke="#000" stroke-width="0.2" font-weight="bold" >0.0</text>
<line x1="398.6" y1="352.3" x2="401.2" y2="352.3" stroke="#000" stroke-width="1.1" />
<line x1="396.6" y1="336.4" x2="401.2" y2="336.4" stroke="#000" stroke-width="1.3" />
<text x="393.9" y="339.6" font-size="8.9" text-anchor="end" fill="#000" stroke="#000" stroke-width="0.2" font-weight="bold" >0.5</text>
<line x1="398.6" y1="320.5" x2="401.2" y2="320.5" stroke="#000" stroke-width="1.1" />
<line x1="396.6" y1="304.6" x2="401.2" y2="304.6" stroke="#000" stroke-width="1.3" />
<text x="393.9" y="307.8" font-size="8.9" text-anchor="end" fill="#000" stroke="#000" stroke-width="0.2" font-weight="bold" >1.0</text>
<line x1="398.6" y1="288.7" x2="401.2" y2="288.7" stroke="#000" stroke-width="1.1" />
<line x1="396.6" y1="272.8" x2="401.2" y2="272.8" stroke="#000" stroke-width="1.3" />
<text x="393.9" y="276" font-size="8.9" text-anchor="end" fill="#000" stroke="#000" stroke-width="0.2" font-weight="bold" >1.5</text>
<line x1="396.6" y1="368.2" x2="464.2" y2="368.2" stroke="#000" stroke-width="1.3" />
<rect x="407" y="304.6" width="12.2" height="63.6" fill="url(#pDark)" stroke="#000" stroke-width="0.9" />
<line x1="413.1" y1="304.6" x2="413.1" y2="294.42" stroke="#555" stroke-width="1" />
<line x1="410.3" y1="294.42" x2="415.9" y2="294.42" stroke="#555" stroke-width="1" />
<line x1="413.1" y1="368.2" x2="413.1" y2="372.5" stroke="#000" stroke-width="1.2" />
<circle cx="408.1" cy="296.33" r="2.3" fill="#fff" stroke="#000" stroke-width="0.9"/>
<circle cx="417.6" cy="296.33" r="2.3" fill="#fff" stroke="#000" stroke-width="0.9"/>
<circle cx="410.1" cy="314.78" r="2.3" fill="#fff" stroke="#000" stroke-width="0.9"/>
<circle cx="417.1" cy="310.96" r="2.3" fill="#fff" stroke="#000" stroke-width="0.9"/>
<rect x="426.3" y="300.15" width="12.2" height="68.05" fill="url(#pHatchG)" stroke="#888" stroke-width="0.9" />
<line x1="432.4" y1="300.15" x2="432.4" y2="295.06" stroke="#888" stroke-width="1" />
<line x1="429.6" y1="295.06" x2="435.2" y2="295.06" stroke="#888" stroke-width="1" />
<line x1="432.4" y1="368.2" x2="432.4" y2="372.5" stroke="#000" stroke-width="1.2" />
<circle cx="432.4" cy="290.61" r="2.3" fill="#fff" stroke="#000" stroke-width="0.9"/>
<circle cx="429" cy="303.96" r="2.3" fill="#fff" stroke="#000" stroke-width="0.9"/>
<circle cx="436" cy="303.96" r="2.3" fill="#fff" stroke="#000" stroke-width="0.9"/>
<circle cx="432.4" cy="299.51" r="2.3" fill="#fff" stroke="#000" stroke-width="0.9"/>
<rect x="445.7" y="303.33" width="12.2" height="64.87" fill="url(#pCheckL)" stroke="#cfcfcf" stroke-width="0.9" />
<line x1="451.8" y1="303.33" x2="451.8" y2="291.88" stroke="#bbb" stroke-width="1" />
<line x1="449" y1="291.88" x2="454.6" y2="291.88" stroke="#bbb" stroke-width="1" />
<line x1="451.8" y1="368.2" x2="451.8" y2="372.5" stroke="#000" stroke-width="1.2" />
<circle cx="455.4" cy="293.15" r="2.3" fill="#fff" stroke="#000" stroke-width="0.9"/>
<circle cx="449.1" cy="298.24" r="2.3" fill="#fff" stroke="#000" stroke-width="0.9"/>
<circle cx="451.8" cy="305.24" r="2.3" fill="#fff" stroke="#000" stroke-width="0.9"/>
<circle cx="451.8" cy="318.59" r="2.3" fill="#fff" stroke="#000" stroke-width="0.9"/>
<text x="430.6" y="385.8" font-size="10.4" text-anchor="middle" fill="#000" stroke="#000" stroke-width="0.0" >#1</text>
<text x="448.6" y="385.8" font-size="10.4" text-anchor="middle" fill="#000" stroke="#000" stroke-width="0.0" >#2</text>
<line x1="423.6" y1="389.2" x2="460.6" y2="389.2" stroke="#000" stroke-width="1.1" />
<text x="440" y="401.4" font-size="10.2" text-anchor="middle" fill="#000" stroke="#000" stroke-width="0.0" >sh<tspan font-style="italic">Phgdh</tspan></text>
<line x1="413.1" y1="374.5" x2="413.1" y2="403.4" stroke="#000" stroke-width="1.1" />
<text x="413.7" y="415.7" font-size="10.2" text-anchor="middle" fill="#000" stroke="#000" stroke-width="0.0" >shSCR</text>
<polyline points="413.1,268.4 413.1,261.4 451.8,261.4 451.8,268.4" fill="none" stroke="#000" stroke-width="1.3" stroke-linejoin="miter" />
<text x="432.45" y="257.8" font-size="10" text-anchor="middle" fill="#000" stroke="#000" stroke-width="0.0" font-style="italic" >ns</text>
<polyline points="413.1,287.7 413.1,281.9 432.4,281.9 432.4,287.7" fill="none" stroke="#000" stroke-width="1.3" stroke-linejoin="miter" />
<text x="422.75" y="279" font-size="10" text-anchor="middle" fill="#000" stroke="#000" stroke-width="0.0" font-style="italic" >ns</text>
<text x="185.3" y="319.7" font-size="9" text-anchor="middle" fill="#000" stroke="#000" stroke-width="0.2" font-weight="bold" transform="rotate(-90 185.3 319.7)" >Relative levels</text>
<text x="488.8" y="222" font-size="17" text-anchor="start" fill="#000" stroke="#000" stroke-width="0.2" font-weight="bold" >f.</text>
<line x1="528.8" y1="311.1" x2="528.8" y2="428.7" stroke="#000" stroke-width="1.3" />
<line x1="524.2" y1="428.1" x2="528.8" y2="428.1" stroke="#000" stroke-width="1.3" />
<text x="521.6" y="431.6" font-size="9.8" text-anchor="end" fill="#000" stroke="#000" stroke-width="0.2" font-weight="bold" >0</text>
<line x1="524.2" y1="404.82" x2="528.8" y2="404.82" stroke="#000" stroke-width="1.3" />
<text x="521.6" y="408.32" font-size="9.8" text-anchor="end" fill="#000" stroke="#000" stroke-width="0.2" font-weight="bold" >20</text>
<line x1="524.2" y1="381.54" x2="528.8" y2="381.54" stroke="#000" stroke-width="1.3" />
<text x="521.6" y="385.04" font-size="9.8" text-anchor="end" fill="#000" stroke="#000" stroke-width="0.2" font-weight="bold" >40</text>
<line x1="524.2" y1="358.26" x2="528.8" y2="358.26" stroke="#000" stroke-width="1.3" />
<text x="521.6" y="361.76" font-size="9.8" text-anchor="end" fill="#000" stroke="#000" stroke-width="0.2" font-weight="bold" >60</text>
<line x1="524.2" y1="334.98" x2="528.8" y2="334.98" stroke="#000" stroke-width="1.3" />
<text x="521.6" y="338.48" font-size="9.8" text-anchor="end" fill="#000" stroke="#000" stroke-width="0.2" font-weight="bold" >80</text>
<line x1="524.2" y1="311.7" x2="528.8" y2="311.7" stroke="#000" stroke-width="1.3" />
<text x="521.6" y="315.2" font-size="9.8" text-anchor="end" fill="#000" stroke="#000" stroke-width="0.2" font-weight="bold" >100</text>
<line x1="528.2" y1="428.1" x2="641.2" y2="428.1" stroke="#000" stroke-width="1.3" />
<text x="498.2" y="367.7" font-size="10.4" text-anchor="middle" fill="#000" stroke="#000" stroke-width="0.2" font-weight="bold" transform="rotate(-90 498.2 367.7)" >% dead cells (DAPI+)</text>
<rect x="535.3" y="416.46" width="12.6" height="11.64" fill="url(#pDark)" stroke="#000" stroke-width="0.9" />
<line x1="541.6" y1="416.46" x2="541.6" y2="414.13" stroke="#000" stroke-width="1" />
<line x1="538.8" y1="414.13" x2="544.4" y2="414.13" stroke="#000" stroke-width="1" />
<line x1="541.6" y1="428.1" x2="541.6" y2="432.5" stroke="#000" stroke-width="1.2" />
<circle cx="537.1" cy="414.13" r="2.3" fill="#fff" stroke="#000" stroke-width="0.9"/>
<circle cx="541.6" cy="412.97" r="2.3" fill="#fff" stroke="#000" stroke-width="0.9"/>
<circle cx="545.6" cy="413.55" r="2.3" fill="#fff" stroke="#000" stroke-width="0.9"/>
<circle cx="538" cy="419.37" r="2.3" fill="#fff" stroke="#000" stroke-width="0.9"/>
<circle cx="544.6" cy="415.3" r="2.3" fill="#fff" stroke="#000" stroke-width="0.9"/>
<rect x="552.6" y="381.54" width="12.6" height="46.56" fill="url(#pBlue)" stroke="#1a3cff" stroke-width="0.9" />
<line x1="558.9" y1="381.54" x2="558.9" y2="378.05" stroke="#1a3cff" stroke-width="1" />
<line x1="556.1" y1="378.05" x2="561.7" y2="378.05" stroke="#1a3cff" stroke-width="1" />
<line x1="558.9" y1="428.1" x2="558.9" y2="432.5" stroke="#000" stroke-width="1.2" />
<circle cx="558.9" cy="376.3" r="2.3" fill="#fff" stroke="#000" stroke-width="0.9"/>
<circle cx="554.9" cy="381.54" r="2.3" fill="#fff" stroke="#000" stroke-width="0.9"/>
<circle cx="558.9" cy="381.54" r="2.3" fill="#fff" stroke="#000" stroke-width="0.9"/>
<circle cx="562.9" cy="381.54" r="2.3" fill="#fff" stroke="#000" stroke-width="0.9"/>
<rect x="570.1" y="394.93" width="12.6" height="33.17" fill="url(#pHatchG)" stroke="#8a8a8a" stroke-width="0.9" />
<line x1="576.4" y1="394.93" x2="576.4" y2="381.54" stroke="#8a8a8a" stroke-width="1" />
<line x1="573.6" y1="381.54" x2="579.2" y2="381.54" stroke="#8a8a8a" stroke-width="1" />
<line x1="576.4" y1="428.1" x2="576.4" y2="432.5" stroke="#000" stroke-width="1.2" />
<circle cx="571.9" cy="386.2" r="2.3" fill="#fff" stroke="#000" stroke-width="0.9"/>
<circle cx="580.9" cy="383.29" r="2.3" fill="#fff" stroke="#000" stroke-width="0.9"/>
<circle cx="576.4" cy="398.42" r="2.3" fill="#fff" stroke="#000" stroke-width="0.9"/>
<circle cx="576.4" cy="410.64" r="2.3" fill="#fff" stroke="#000" stroke-width="0.9"/>
<rect x="587.2" y="330.32" width="12.6" height="97.78" fill="url(#pHatchR)" stroke="#ff2a10" stroke-width="0.9" />
<line x1="593.5" y1="330.32" x2="593.5" y2="321.01" stroke="#ff2a10" stroke-width="1" />
<line x1="590.7" y1="321.01" x2="596.3" y2="321.01" stroke="#ff2a10" stroke-width="1" />
<line x1="593.5" y1="428.1" x2="593.5" y2="432.5" stroke="#000" stroke-width="1.2" />
<circle cx="593.5" cy="321.01" r="2.3" fill="#fff" stroke="#000" stroke-width="0.9"/>
<circle cx="593.5" cy="326.83" r="2.3" fill="#fff" stroke="#000" stroke-width="0.9"/>
<circle cx="593.5" cy="334.98" r="2.3" fill="#fff" stroke="#000" stroke-width="0.9"/>
<circle cx="593.5" cy="339.64" r="2.3" fill="#fff" stroke="#000" stroke-width="0.9"/>
<rect x="604.7" y="405.98" width="12.6" height="22.12" fill="url(#pCheckLL)" stroke="#c8c8c8" stroke-width="0.9" />
<line x1="611" y1="405.98" x2="611" y2="397.25" stroke="#c8c8c8" stroke-width="1" />
<line x1="608.2" y1="397.25" x2="613.8" y2="397.25" stroke="#c8c8c8" stroke-width="1" />
<line x1="611" y1="428.1" x2="611" y2="432.5" stroke="#000" stroke-width="1.2" />
<circle cx="611" cy="395.51" r="2.3" fill="#fff" stroke="#000" stroke-width="0.9"/>
<circle cx="611" cy="404.24" r="2.3" fill="#fff" stroke="#000" stroke-width="0.9"/>
<circle cx="607" cy="414.13" r="2.3" fill="#fff" stroke="#000" stroke-width="0.9"/>
<circle cx="615" cy="411.22" r="2.3" fill="#fff" stroke="#000" stroke-width="0.9"/>
<rect x="621.7" y="353.6" width="12.6" height="74.5" fill="url(#pCheckP)" stroke="#f77" stroke-width="0.9" />
<line x1="628" y1="353.6" x2="628" y2="339.64" stroke="#f77" stroke-width="1" />
<line x1="625.2" y1="339.64" x2="630.8" y2="339.64" stroke="#f77" stroke-width="1" />
<line x1="628" y1="428.1" x2="628" y2="432.5" stroke="#000" stroke-width="1.2" />
<circle cx="628" cy="336.14" r="2.3" fill="#fff" stroke="#000" stroke-width="0.9"/>
<circle cx="628" cy="347.78" r="2.3" fill="#fff" stroke="#000" stroke-width="0.9"/>
<circle cx="628" cy="362.33" r="2.3" fill="#fff" stroke="#000" stroke-width="0.9"/>
<circle cx="628" cy="366.99" r="2.3" fill="#fff" stroke="#000" stroke-width="0.9"/>
<text x="541.6" y="443.8" font-size="10.6" text-anchor="middle" fill="#000" stroke="#000" stroke-width="0.0" >-</text>
<text x="558.9" y="443.8" font-size="10.6" text-anchor="middle" fill="#000" stroke="#000" stroke-width="0.0" >+</text>
<text x="576.4" y="443.8" font-size="10.6" text-anchor="middle" fill="#000" stroke="#000" stroke-width="0.0" >-</text>
<text x="593.5" y="443.8" font-size="10.6" text-anchor="middle" fill="#000" stroke="#000" stroke-width="0.0" >+</text>
<text x="611" y="443.8" font-size="10.6" text-anchor="middle" fill="#000" stroke="#000" stroke-width="0.0" >-</text>
<text x="628" y="443.8" font-size="10.6" text-anchor="middle" fill="#000" stroke="#000" stroke-width="0.0" >+</text>
<text x="641.2" y="444" font-size="10.4" text-anchor="start" fill="#000" stroke="#000" stroke-width="0.0" >: ASNase</text>
<line x1="534" y1="449.7" x2="563.2" y2="449.7" stroke="#000" stroke-width="1.1" />
<line x1="569.7" y1="449.7" x2="598.9" y2="449.7" stroke="#000" stroke-width="1.1" />
<line x1="607" y1="449.7" x2="635.4" y2="449.7" stroke="#000" stroke-width="1.1" />
<line x1="548.4" y1="449.7" x2="548.4" y2="484.7" stroke="#000" stroke-width="1.1" />
<line x1="584.3" y1="449.7" x2="584.3" y2="471.6" stroke="#000" stroke-width="1.1" />
<line x1="620.8" y1="449.7" x2="620.8" y2="455.5" stroke="#000" stroke-width="1.1" />
<text x="548.4" y="499.4" font-size="10.2" text-anchor="middle" fill="#000" stroke="#000" stroke-width="0.0" >shSCR</text>
<text x="587.2" y="484" font-size="10.2" text-anchor="middle" fill="#000" stroke="#000" stroke-width="0.0" >sh<tspan font-style="italic">Phgdh</tspan> #1</text>
<text x="635.4" y="468" font-size="10.2" text-anchor="middle" fill="#000" stroke="#000" stroke-width="0.0" >sh<tspan font-style="italic">Phgdh</tspan> #2</text>
<polyline points="559.5,232 559.5,224 628,224 628,238" fill="none" stroke="#000" stroke-width="1.3" stroke-linejoin="miter" />
<text x="594.5" y="218" font-size="13" text-anchor="middle" fill="#000" stroke="#000" stroke-width="0.35" >**</text>
<polyline points="593.6,252.6 593.6,243.8 628,243.8 628,297.8" fill="none" stroke="#000" stroke-width="1.3" stroke-linejoin="miter" />
<text x="611.1" y="239.5" font-size="13" text-anchor="middle" fill="#000" stroke="#000" stroke-width="0.35" >*</text>
<polyline points="559.5,270 559.5,260.7 593.6,260.7 593.6,270" fill="none" stroke="#000" stroke-width="1.3" stroke-linejoin="miter" />
<text x="576.1" y="255.8" font-size="13" text-anchor="middle" fill="#000" stroke="#000" stroke-width="0.35" >****</text>
<polyline points="541.9,311 541.9,285.3 611.1,285.3 611.1,308" fill="none" stroke="#000" stroke-width="1.3" stroke-linejoin="miter" />
<text x="578.4" y="281" font-size="10.6" text-anchor="middle" fill="#000" stroke="#000" stroke-width="0.0" font-style="italic" >ns</text>
<polyline points="576.4,325.5 576.4,303 593.6,303 593.6,311" fill="none" stroke="#000" stroke-width="1.3" stroke-linejoin="miter" />
<text x="585.7" y="298.8" font-size="13" text-anchor="middle" fill="#000" stroke="#000" stroke-width="0.35" >****</text>
<polyline points="611.1,376.6 611.1,319.7 628,319.7 628,327" fill="none" stroke="#000" stroke-width="1.3" stroke-linejoin="miter" />
<text x="619.9" y="316.2" font-size="13" text-anchor="middle" fill="#000" stroke="#000" stroke-width="0.35" >****</text>
<polyline points="541.9,346 541.9,335.8 576.4,335.8 576.4,368.8" fill="none" stroke="#000" stroke-width="1.3" stroke-linejoin="miter" />
<text x="558.9" y="331" font-size="13" text-anchor="middle" fill="#000" stroke="#000" stroke-width="0.35" >*</text>
<polyline points="541.9,373.8 541.9,362.9 559.5,362.9 559.5,369.4" fill="none" stroke="#000" stroke-width="1.3" stroke-linejoin="miter" />
<text x="549.8" y="357.5" font-size="13" text-anchor="middle" fill="#000" stroke="#000" stroke-width="0.35" >***</text>
<text x="3" y="459" font-size="17" text-anchor="start" fill="#000" stroke="#000" stroke-width="0.2" font-weight="bold" >g.</text>
<line x1="54.7" y1="460.4" x2="75.2" y2="460.4" stroke="#000" stroke-width="1.3" />
<circle cx="64.9" cy="460.4" r="3.1" fill="#000" stroke="#000" stroke-width="0"/>
<text x="79.9" y="463.9" font-size="9.8" text-anchor="start" fill="#000" stroke="#000" stroke-width="0.0" >shSCR</text>
<line x1="54.7" y1="475.2" x2="75.2" y2="475.2" stroke="#9a9a9a" stroke-width="1.3" />
<rect x="61.9" y="472.2" width="6" height="6" fill="#9a9a9a" stroke="none" stroke-width="0" />
<text x="79.9" y="478.7" font-size="9.8" text-anchor="start" fill="#000" stroke="#000" stroke-width="0.0" >sh<tspan font-style="italic">Phgdh</tspan> #1</text>
<line x1="54.7" y1="489.7" x2="75.2" y2="489.7" stroke="#c8c8c8" stroke-width="1.2" stroke-dasharray="2.5 2"/>
<path d="M64.9 486.3L68.3 489.7L64.9 493.1L61.5 489.7Z" fill="#fff" stroke="#c8c8c8" stroke-width="1.1"/>
<text x="79.9" y="493.2" font-size="9.8" text-anchor="start" fill="#000" stroke="#000" stroke-width="0.0" >sh<tspan font-style="italic">Phgdh</tspan> #2</text>
<line x1="57.8" y1="498" x2="57.8" y2="614.2" stroke="#000" stroke-width="1.3" />
<line x1="53.2" y1="613.6" x2="57.8" y2="613.6" stroke="#000" stroke-width="1.3" />
<text x="49.9" y="617.2" font-size="10.3" text-anchor="end" fill="#000" stroke="#000" stroke-width="0.2" font-weight="bold" >0</text>
<line x1="55.4" y1="599.23" x2="57.8" y2="599.23" stroke="#000" stroke-width="1.1" />
<line x1="53.2" y1="584.85" x2="57.8" y2="584.85" stroke="#000" stroke-width="1.3" />
<text x="49.9" y="588.45" font-size="10.3" text-anchor="end" fill="#000" stroke="#000" stroke-width="0.2" font-weight="bold" >50</text>
<line x1="55.4" y1="570.48" x2="57.8" y2="570.48" stroke="#000" stroke-width="1.1" />
<line x1="53.2" y1="556.1" x2="57.8" y2="556.1" stroke="#000" stroke-width="1.3" />
<text x="49.9" y="559.7" font-size="10.3" text-anchor="end" fill="#000" stroke="#000" stroke-width="0.2" font-weight="bold" >100</text>
<line x1="55.4" y1="541.73" x2="57.8" y2="541.73" stroke="#000" stroke-width="1.1" />
<line x1="53.2" y1="527.35" x2="57.8" y2="527.35" stroke="#000" stroke-width="1.3" />
<text x="49.9" y="530.95" font-size="10.3" text-anchor="end" fill="#000" stroke="#000" stroke-width="0.2" font-weight="bold" >150</text>
<line x1="55.4" y1="512.98" x2="57.8" y2="512.98" stroke="#000" stroke-width="1.1" />
<line x1="53.2" y1="498.6" x2="57.8" y2="498.6" stroke="#000" stroke-width="1.3" />
<text x="49.9" y="502.2" font-size="10.3" text-anchor="end" fill="#000" stroke="#000" stroke-width="0.2" font-weight="bold" >200</text>
<line x1="57.2" y1="613.6" x2="143.8" y2="613.6" stroke="#000" stroke-width="1.3" />
<line x1="57.8" y1="613.6" x2="57.8" y2="618" stroke="#000" stroke-width="1.3" />
<text x="57.8" y="629.2" font-size="9.8" text-anchor="middle" fill="#000" stroke="#000" stroke-width="0.2" font-weight="bold" >0</text>
<line x1="79.22" y1="613.6" x2="79.22" y2="618" stroke="#000" stroke-width="1.3" />
<text x="79.22" y="629.2" font-size="9.8" text-anchor="middle" fill="#000" stroke="#000" stroke-width="0.2" font-weight="bold" >1</text>
<line x1="100.64" y1="613.6" x2="100.64" y2="618" stroke="#000" stroke-width="1.3" />
<text x="100.64" y="629.2" font-size="9.8" text-anchor="middle" fill="#000" stroke="#000" stroke-width="0.2" font-weight="bold" >2</text>
<line x1="122.06" y1="613.6" x2="122.06" y2="618" stroke="#000" stroke-width="1.3" />
<text x="122.06" y="629.2" font-size="9.8" text-anchor="middle" fill="#000" stroke="#000" stroke-width="0.2" font-weight="bold" >3</text>
<line x1="143.48" y1="613.6" x2="143.48" y2="618" stroke="#000" stroke-width="1.3" />
<text x="143.48" y="629.2" font-size="9.8" text-anchor="middle" fill="#000" stroke="#000" stroke-width="0.2" font-weight="bold" >4</text>
<text x="100.5" y="643" font-size="9.8" text-anchor="middle" fill="#000" stroke="#000" stroke-width="0.2" font-weight="bold" >Days</text>
<text x="14" y="553.6" font-size="10.2" text-anchor="middle" fill="#000" stroke="#000" stroke-width="0.2" font-weight="bold" transform="rotate(-90 14 553.6)" >Number of live cells</text>
<text x="26" y="553.9" font-size="10.2" text-anchor="middle" fill="#000" stroke="#000" stroke-width="0.2" font-weight="bold" transform="rotate(-90 26 553.9)" >(x10<tspan font-size="6.8" dy="-3.7">6</tspan><tspan dy="3.7">)</tspan></text>
<line x1="143.48" y1="553.8" x2="143.48" y2="567" stroke="#c8c8c8" stroke-width="1.1" />
<line x1="140.88" y1="553.8" x2="146.08" y2="553.8" stroke="#c8c8c8" stroke-width="1.1" />
<line x1="140.88" y1="567" x2="146.08" y2="567" stroke="#c8c8c8" stroke-width="1.1" />
<polyline points="57.8,613.4 79.22,611.6 100.64,606.5 122.06,598.3 143.48,560.5" fill="none" stroke="#c8c8c8" stroke-width="1.3" stroke-linejoin="miter" stroke-dasharray="2.5 2"/>
<path d="M57.8 610L61.2 613.4L57.8 616.8L54.4 613.4Z" fill="#fff" stroke="#c8c8c8" stroke-width="1.1"/>
<path d="M79.22 608.2L82.62 611.6L79.22 615L75.82 611.6Z" fill="#fff" stroke="#c8c8c8" stroke-width="1.1"/>
<path d="M100.64 603.1L104.04 606.5L100.64 609.9L97.24 606.5Z" fill="#fff" stroke="#c8c8c8" stroke-width="1.1"/>
<path d="M122.06 594.9L125.46 598.3L122.06 601.7L118.66 598.3Z" fill="#fff" stroke="#c8c8c8" stroke-width="1.1"/>
<path d="M143.48 557.1L146.88 560.5L143.48 563.9L140.08 560.5Z" fill="#fff" stroke="#c8c8c8" stroke-width="1.1"/>
<line x1="143.48" y1="560.5" x2="143.48" y2="569.3" stroke="#9a9a9a" stroke-width="1.1" />
<line x1="140.88" y1="560.5" x2="146.08" y2="560.5" stroke="#9a9a9a" stroke-width="1.1" />
<line x1="140.88" y1="569.3" x2="146.08" y2="569.3" stroke="#9a9a9a" stroke-width="1.1" />
<polyline points="57.8,613.4 79.22,612.2 100.64,608.1 122.06,595.3 143.48,565.6" fill="none" stroke="#9a9a9a" stroke-width="1.5" stroke-linejoin="miter" />
<rect x="54.8" y="610.4" width="6" height="6" fill="#9a9a9a" stroke="none" stroke-width="0" />
<rect x="76.22" y="609.2" width="6" height="6" fill="#9a9a9a" stroke="none" stroke-width="0" />
<rect x="97.64" y="605.1" width="6" height="6" fill="#9a9a9a" stroke="none" stroke-width="0" />
<rect x="119.06" y="592.3" width="6" height="6" fill="#9a9a9a" stroke="none" stroke-width="0" />
<rect x="140.48" y="562.6" width="6" height="6" fill="#9a9a9a" stroke="none" stroke-width="0" />
<line x1="143.48" y1="507.4" x2="143.48" y2="514.9" stroke="#000" stroke-width="1.1" />
<line x1="140.88" y1="507.4" x2="146.08" y2="507.4" stroke="#000" stroke-width="1.1" />
<line x1="140.88" y1="514.9" x2="146.08" y2="514.9" stroke="#000" stroke-width="1.1" />
<polyline points="57.8,613.2 79.22,611.6 100.64,604.5 122.06,584 143.48,511.5" fill="none" stroke="#000" stroke-width="1.4" stroke-linejoin="miter" />
<circle cx="57.8" cy="613.2" r="3.1" fill="#000" stroke="#000" stroke-width="0"/>
<circle cx="79.22" cy="611.6" r="3.1" fill="#000" stroke="#000" stroke-width="0"/>
<circle cx="100.64" cy="604.5" r="3.1" fill="#000" stroke="#000" stroke-width="0"/>
<circle cx="122.06" cy="584" r="3.1" fill="#000" stroke="#000" stroke-width="0"/>
<circle cx="143.48" cy="511.5" r="3.1" fill="#000" stroke="#000" stroke-width="0"/>
<polyline points="151.8,509.4 155.9,509.4 155.9,559.5 151.8,559.5" fill="none" stroke="#000" stroke-width="1.2" stroke-linejoin="miter" />
<text x="161.2" y="538.2" font-size="11.8" text-anchor="start" fill="#000" stroke="#000" stroke-width="0.15" >***</text>
<polyline points="158.3,559.9 162.4,559.9 162.4,566 158.3,566" fill="none" stroke="#000" stroke-width="1.2" stroke-linejoin="miter" />
<text x="168.1" y="566.2" font-size="10.5" text-anchor="start" fill="#000" stroke="#000" stroke-width="0.0" font-style="italic" >ns</text>
<line x1="53.1" y1="667.9" x2="74.5" y2="667.9" stroke="#1f3dff" stroke-width="1.3" />
<circle cx="63.8" cy="667.9" r="3.1" fill="#1f3dff" stroke="#000" stroke-width="0"/>
<text x="78.8" y="671.4" font-size="9.8" text-anchor="start" fill="#000" stroke="#000" stroke-width="0.0" >shSCR + ASNase</text>
<line x1="53.1" y1="683.1" x2="74.5" y2="683.1" stroke="#ff2a12" stroke-width="1.3" />
<rect x="60.8" y="680.1" width="6" height="6" fill="#ff2a12" stroke="none" stroke-width="0" />
<text x="78.8" y="686.6" font-size="9.8" text-anchor="start" fill="#000" stroke="#000" stroke-width="0.0" >sh<tspan font-style="italic">Phgdh</tspan> #1 + ASNase</text>
<line x1="53.1" y1="698.2" x2="74.5" y2="698.2" stroke="#f9a11b" stroke-width="1.3" stroke-dasharray="2.5 2"/>
<path d="M63.8 694.8L67.2 698.2L63.8 701.6L60.4 698.2Z" fill="#f9a11b" stroke="#f9a11b" stroke-width="0.5"/>
<text x="78.8" y="701.7" font-size="9.8" text-anchor="start" fill="#000" stroke="#000" stroke-width="0.0" >sh<tspan font-style="italic">Phgdh</tspan> #2 + ASNase</text>
<line x1="57.8" y1="705.9" x2="57.8" y2="823.6" stroke="#000" stroke-width="1.3" />
<line x1="53.2" y1="823" x2="57.8" y2="823" stroke="#000" stroke-width="1.3" />
<text x="49.9" y="826.6" font-size="10.3" text-anchor="end" fill="#000" stroke="#000" stroke-width="0.2" font-weight="bold" >0</text>
<line x1="55.4" y1="808.44" x2="57.8" y2="808.44" stroke="#000" stroke-width="1.1" />
<line x1="53.2" y1="793.88" x2="57.8" y2="793.88" stroke="#000" stroke-width="1.3" />
<text x="49.9" y="797.48" font-size="10.3" text-anchor="end" fill="#000" stroke="#000" stroke-width="0.2" font-weight="bold" >5</text>
<line x1="55.4" y1="779.31" x2="57.8" y2="779.31" stroke="#000" stroke-width="1.1" />
<line x1="53.2" y1="764.75" x2="57.8" y2="764.75" stroke="#000" stroke-width="1.3" />
<text x="49.9" y="768.35" font-size="10.3" text-anchor="end" fill="#000" stroke="#000" stroke-width="0.2" font-weight="bold" >10</text>
<line x1="55.4" y1="750.19" x2="57.8" y2="750.19" stroke="#000" stroke-width="1.1" />
<line x1="53.2" y1="735.62" x2="57.8" y2="735.62" stroke="#000" stroke-width="1.3" />
<text x="49.9" y="739.23" font-size="10.3" text-anchor="end" fill="#000" stroke="#000" stroke-width="0.2" font-weight="bold" >15</text>
<line x1="55.4" y1="721.06" x2="57.8" y2="721.06" stroke="#000" stroke-width="1.1" />
<line x1="53.2" y1="706.5" x2="57.8" y2="706.5" stroke="#000" stroke-width="1.3" />
<text x="49.9" y="710.1" font-size="10.3" text-anchor="end" fill="#000" stroke="#000" stroke-width="0.2" font-weight="bold" >20</text>
<line x1="57.2" y1="823" x2="144.6" y2="823" stroke="#000" stroke-width="1.3" />
<line x1="57.8" y1="823" x2="57.8" y2="827.4" stroke="#000" stroke-width="1.3" />
<text x="57.8" y="838.2" font-size="9.8" text-anchor="middle" fill="#000" stroke="#000" stroke-width="0.2" font-weight="bold" >0</text>
<line x1="79.35" y1="823" x2="79.35" y2="827.4" stroke="#000" stroke-width="1.3" />
<text x="79.35" y="838.2" font-size="9.8" text-anchor="middle" fill="#000" stroke="#000" stroke-width="0.2" font-weight="bold" >1</text>
<line x1="100.9" y1="823" x2="100.9" y2="827.4" stroke="#000" stroke-width="1.3" />
<text x="100.9" y="838.2" font-size="9.8" text-anchor="middle" fill="#000" stroke="#000" stroke-width="0.2" font-weight="bold" >2</text>
<line x1="122.45" y1="823" x2="122.45" y2="827.4" stroke="#000" stroke-width="1.3" />
<text x="122.45" y="838.2" font-size="9.8" text-anchor="middle" fill="#000" stroke="#000" stroke-width="0.2" font-weight="bold" >3</text>
<line x1="144" y1="823" x2="144" y2="827.4" stroke="#000" stroke-width="1.3" />
<text x="144" y="838.2" font-size="9.8" text-anchor="middle" fill="#000" stroke="#000" stroke-width="0.2" font-weight="bold" >4</text>
<text x="100.9" y="852" font-size="9.8" text-anchor="middle" fill="#000" stroke="#000" stroke-width="0.2" font-weight="bold" >Days</text>
<text x="19.4" y="762.4" font-size="10.2" text-anchor="middle" fill="#000" stroke="#000" stroke-width="0.2" font-weight="bold" transform="rotate(-90 19.4 762.4)" >Number of live cells</text>
<text x="31.4" y="762.1" font-size="10.2" text-anchor="middle" fill="#000" stroke="#000" stroke-width="0.2" font-weight="bold" transform="rotate(-90 31.4 762.1)" >(x10<tspan font-size="6.8" dy="-3.7">6</tspan><tspan dy="3.7">)</tspan></text>
<line x1="144" y1="802.2" x2="144" y2="810.4" stroke="#f9a11b" stroke-width="1.1" />
<line x1="141.4" y1="802.2" x2="146.6" y2="802.2" stroke="#f9a11b" stroke-width="1.1" />
<line x1="141.4" y1="810.4" x2="146.6" y2="810.4" stroke="#f9a11b" stroke-width="1.1" />
<polyline points="57.8,815.1 79.35,816.2 100.9,813.4 122.45,810.8 144,806.3" fill="none" stroke="#f9a11b" stroke-width="1.3" stroke-linejoin="miter" stroke-dasharray="3 2"/>
<path d="M57.8 811.5L61.4 815.1L57.8 818.7L54.2 815.1Z" fill="#f9a11b" stroke="#f9a11b" stroke-width="0.5"/>
<path d="M79.35 812.6L82.95 816.2L79.35 819.8L75.75 816.2Z" fill="#f9a11b" stroke="#f9a11b" stroke-width="0.5"/>
<path d="M100.9 809.8L104.5 813.4L100.9 817L97.3 813.4Z" fill="#f9a11b" stroke="#f9a11b" stroke-width="0.5"/>
<path d="M122.45 807.2L126.05 810.8L122.45 814.4L118.85 810.8Z" fill="#f9a11b" stroke="#f9a11b" stroke-width="0.5"/>
<path d="M144 802.7L147.6 806.3L144 809.9L140.4 806.3Z" fill="#f9a11b" stroke="#f9a11b" stroke-width="0.5"/>
<polyline points="57.8,815.1 79.35,816.9 100.9,816.5 122.45,816.1 144,815.1" fill="none" stroke="#ff2a12" stroke-width="1.4" stroke-linejoin="miter" />
<rect x="54.7" y="812" width="6.2" height="6.2" fill="#ff2a12" stroke="none" stroke-width="0" />
<rect x="76.25" y="813.8" width="6.2" height="6.2" fill="#ff2a12" stroke="none" stroke-width="0" />
<rect x="97.8" y="813.4" width="6.2" height="6.2" fill="#ff2a12" stroke="none" stroke-width="0" />
<rect x="119.35" y="813" width="6.2" height="6.2" fill="#ff2a12" stroke="none" stroke-width="0" />
<rect x="140.9" y="812" width="6.2" height="6.2" fill="#ff2a12" stroke="none" stroke-width="0" />
<line x1="144" y1="751.5" x2="144" y2="763.4" stroke="#1f3dff" stroke-width="1.1" />
<line x1="141.4" y1="751.5" x2="146.6" y2="751.5" stroke="#1f3dff" stroke-width="1.1" />
<line x1="141.4" y1="763.4" x2="146.6" y2="763.4" stroke="#1f3dff" stroke-width="1.1" />
<polyline points="57.8,815.1 79.35,810.8 100.9,802.2 122.45,787.9 144,757.8" fill="none" stroke="#1f3dff" stroke-width="1.5" stroke-linejoin="miter" />
<circle cx="57.8" cy="815.1" r="3.3" fill="#1f3dff" stroke="#000" stroke-width="0"/>
<circle cx="79.35" cy="810.8" r="3.3" fill="#1f3dff" stroke="#000" stroke-width="0"/>
<circle cx="100.9" cy="802.2" r="3.3" fill="#1f3dff" stroke="#000" stroke-width="0"/>
<circle cx="122.45" cy="787.9" r="3.3" fill="#1f3dff" stroke="#000" stroke-width="0"/>
<circle cx="144" cy="757.8" r="3.3" fill="#1f3dff" stroke="#000" stroke-width="0"/>
<polyline points="153.2,757.6 157.3,757.6 157.3,804.2 153.2,804.2" fill="none" stroke="#000" stroke-width="1.2" stroke-linejoin="miter" />
<text x="161.8" y="784.3" font-size="11.8" text-anchor="start" fill="#000" stroke="#000" stroke-width="0.15" >****</text>
<polyline points="162,804.8 166.5,804.8 166.5,814.4 162,814.4" fill="none" stroke="#000" stroke-width="1.2" stroke-linejoin="miter" />
<text x="171.8" y="815.2" font-size="11.8" text-anchor="start" fill="#000" stroke="#000" stroke-width="0.15" >*</text>
<text x="205.8" y="460.9" font-size="17" text-anchor="start" fill="#000" stroke="#000" stroke-width="0.2" font-weight="bold" >h.</text>
<line x1="259.6" y1="472.4" x2="259.6" y2="592" stroke="#000" stroke-width="1.3" />
<line x1="255.2" y1="591.4" x2="259.6" y2="591.4" stroke="#000" stroke-width="1.3" />
<text x="252.8" y="595.2" font-size="10.8" text-anchor="end" fill="#000" stroke="#000" stroke-width="0.2" font-weight="bold" >0</text>
<line x1="255.2" y1="564.27" x2="259.6" y2="564.27" stroke="#000" stroke-width="1.3" />
<text x="252.8" y="568.07" font-size="10.8" text-anchor="end" fill="#000" stroke="#000" stroke-width="0.2" font-weight="bold" >25</text>
<line x1="255.2" y1="537.15" x2="259.6" y2="537.15" stroke="#000" stroke-width="1.3" />
<text x="252.8" y="540.95" font-size="10.8" text-anchor="end" fill="#000" stroke="#000" stroke-width="0.2" font-weight="bold" >50</text>
<line x1="255.2" y1="510.02" x2="259.6" y2="510.02" stroke="#000" stroke-width="1.3" />
<text x="252.8" y="513.82" font-size="10.8" text-anchor="end" fill="#000" stroke="#000" stroke-width="0.2" font-weight="bold" >75</text>
<line x1="255.2" y1="482.9" x2="259.6" y2="482.9" stroke="#000" stroke-width="1.3" />
<text x="252.8" y="486.7" font-size="10.8" text-anchor="end" fill="#000" stroke="#000" stroke-width="0.2" font-weight="bold" >100</text>
<line x1="259" y1="591.4" x2="472.5" y2="591.4" stroke="#000" stroke-width="1.3" />
<line x1="259.6" y1="591.4" x2="259.6" y2="596.2" stroke="#000" stroke-width="1.3" />
<text x="259.6" y="608.9" font-size="10.8" text-anchor="middle" fill="#000" stroke="#000" stroke-width="0.2" font-weight="bold" >0</text>
<line x1="277.35" y1="591.4" x2="277.35" y2="594" stroke="#000" stroke-width="1.1" />
<line x1="295.1" y1="591.4" x2="295.1" y2="596.2" stroke="#000" stroke-width="1.3" />
<text x="295.1" y="608.9" font-size="10.8" text-anchor="middle" fill="#000" stroke="#000" stroke-width="0.2" font-weight="bold" >10</text>
<line x1="312.85" y1="591.4" x2="312.85" y2="594" stroke="#000" stroke-width="1.1" />
<line x1="330.6" y1="591.4" x2="330.6" y2="596.2" stroke="#000" stroke-width="1.3" />
<text x="330.6" y="608.9" font-size="10.8" text-anchor="middle" fill="#000" stroke="#000" stroke-width="0.2" font-weight="bold" >20</text>
<line x1="348.35" y1="591.4" x2="348.35" y2="594" stroke="#000" stroke-width="1.1" />
<line x1="366.1" y1="591.4" x2="366.1" y2="596.2" stroke="#000" stroke-width="1.3" />
<text x="366.1" y="608.9" font-size="10.8" text-anchor="middle" fill="#000" stroke="#000" stroke-width="0.2" font-weight="bold" >30</text>
<line x1="383.85" y1="591.4" x2="383.85" y2="594" stroke="#000" stroke-width="1.1" />
<line x1="401.6" y1="591.4" x2="401.6" y2="596.2" stroke="#000" stroke-width="1.3" />
<text x="401.6" y="608.9" font-size="10.8" text-anchor="middle" fill="#000" stroke="#000" stroke-width="0.2" font-weight="bold" >40</text>
<line x1="419.35" y1="591.4" x2="419.35" y2="594" stroke="#000" stroke-width="1.1" />
<line x1="437.1" y1="591.4" x2="437.1" y2="596.2" stroke="#000" stroke-width="1.3" />
<text x="437.1" y="608.9" font-size="10.8" text-anchor="middle" fill="#000" stroke="#000" stroke-width="0.2" font-weight="bold" >50</text>
<line x1="454.85" y1="591.4" x2="454.85" y2="594" stroke="#000" stroke-width="1.1" />
<line x1="472.6" y1="591.4" x2="472.6" y2="596.2" stroke="#000" stroke-width="1.3" />
<text x="472.6" y="608.9" font-size="10.8" text-anchor="middle" fill="#000" stroke="#000" stroke-width="0.2" font-weight="bold" >60</text>
<text x="366.3" y="624.1" font-size="10.9" text-anchor="middle" fill="#000" stroke="#000" stroke-width="0.2" font-weight="bold" >days after cell injection</text>
<text x="215.3" y="532" font-size="10.8" text-anchor="middle" fill="#000" stroke="#000" stroke-width="0.2" font-weight="bold" transform="rotate(-90 215.3 532)" >Survival</text>
<text x="228.7" y="532" font-size="10.8" text-anchor="middle" fill="#000" stroke="#000" stroke-width="0.2" font-weight="bold" transform="rotate(-90 228.7 532)" >probability (%)</text>
<polyline points="259.6,482.9 355.45,482.9 355.45,493.75 366.1,493.75 366.1,504.6 369.65,504.6 369.65,515.45 376.75,515.45 376.75,537.15 380.3,537.15 380.3,558.85 383.85,558.85 383.85,569.7 387.4,569.7 387.4,580.55 390.95,580.55 390.95,591.4 390.95,591.4" fill="none" stroke="#1f3dff" stroke-width="1.4" stroke-linejoin="miter" />
<polyline points="259.6,482.9 383.85,482.9 383.85,493.75 405.15,493.75 405.15,504.6 408.7,504.6 408.7,515.45 412.25,515.45 412.25,537.15 419.35,537.15 419.35,548 426.45,548 426.45,558.85 433.55,558.85 433.55,569.7 454.85,569.7 454.85,580.55 472.6,580.55" fill="none" stroke="#ff4525" stroke-width="1.4" stroke-linejoin="miter" />
<line x1="472.3" y1="577.55" x2="472.3" y2="580.55" stroke="#ff4525" stroke-width="1.3" />
<polyline points="259.6,482.9 341.25,482.9 341.25,526.3 348.35,526.3 348.35,537.15 351.9,537.15 351.9,548 355.45,548 355.45,569.7 359,569.7 359,580.55 362.55,580.55 362.55,591.4 362.55,591.4" fill="none" stroke="#b4b4b4" stroke-width="1.4" stroke-linejoin="miter" />
<polyline points="259.6,482.9 327.05,482.9 327.05,493.75 334.15,493.75 334.15,537.15 337.7,537.15 337.7,548 341.25,548 341.25,569.7 348.35,569.7 348.35,580.55 355.45,580.55 355.45,591.4 355.45,591.4" fill="none" stroke="#1a1a1a" stroke-width="1.4" stroke-linejoin="miter" />
<line x1="482.7" y1="532.3" x2="496.5" y2="532.3" stroke="#111" stroke-width="1.3" />
<text x="503.2" y="535.6" font-size="9.3" text-anchor="start" fill="#000" stroke="#000" stroke-width="0.0" >shSCR- Vehicle</text>
<line x1="482.7" y1="548.5" x2="496.5" y2="548.5" stroke="#b4b4b4" stroke-width="1.3" />
<text x="503.2" y="551.8" font-size="9.3" text-anchor="start" fill="#000" stroke="#000" stroke-width="0.0" >sh<tspan font-style="italic">Phgdh</tspan> #1- Vehicle</text>
<line x1="482.7" y1="563.8" x2="496.5" y2="563.8" stroke="#1f3dff" stroke-width="1.3" />
<text x="503.2" y="567.1" font-size="9.3" text-anchor="start" fill="#000" stroke="#000" stroke-width="0.0" >shSCR- ASNase</text>
<line x1="482.7" y1="579.2" x2="496.5" y2="579.2" stroke="#ff4525" stroke-width="1.3" />
<text x="503.2" y="582.5" font-size="9.3" text-anchor="start" fill="#000" stroke="#000" stroke-width="0.0" >sh<tspan font-style="italic">Phgdh</tspan> #1- ASNase</text>
<polyline points="598.2,532.3 604.4,532.3 604.4,548.2 598.2,548.2" fill="none" stroke="#000" stroke-width="1.3" stroke-linejoin="miter" />
<text x="609.3" y="545" font-size="10.5" text-anchor="start" fill="#000" stroke="#000" stroke-width="0.15" >**</text>
<polyline points="598.2,564.5 604.4,564.5 604.4,580.7 598.2,580.7" fill="none" stroke="#000" stroke-width="1.3" stroke-linejoin="miter" />
<text x="609.9" y="577.8" font-size="10.5" text-anchor="start" fill="#000" stroke="#000" stroke-width="0.15" >****</text>
<polyline points="620.6,532.3 626.7,532.3 626.7,564.5 620.6,564.5" fill="none" stroke="#000" stroke-width="1.3" stroke-linejoin="miter" />
<text x="632" y="551.8" font-size="10.5" text-anchor="start" fill="#000" stroke="#000" stroke-width="0.15" >****</text>
<polyline points="655.3,549.1 661.4,549.1 661.4,582.8 655.3,582.8" fill="none" stroke="#000" stroke-width="1.3" stroke-linejoin="miter" />
<text x="666.6" y="570.2" font-size="10.5" text-anchor="start" fill="#000" stroke="#000" stroke-width="0.15" >****</text>
<text x="214.8" y="668.6" font-size="17" text-anchor="start" fill="#000" stroke="#000" stroke-width="0.2" font-weight="bold" >i.</text>
<text x="296.1" y="676" font-size="11.4" text-anchor="middle" fill="#000" stroke="#000" stroke-width="0.0" >shSCR</text>
<text x="407.7" y="676" font-size="11.4" text-anchor="middle" fill="#ff1a1a" stroke="#ff1a1a" stroke-width="0.0" >sh<tspan font-style="italic">Phgdh</tspan> #1</text>
<line x1="255.4" y1="682.5" x2="347.7" y2="682.5" stroke="#000" stroke-width="1.2" />
<line x1="352.1" y1="682.5" x2="473.1" y2="682.5" stroke="#000" stroke-width="1.2" />
<text x="276" y="698.4" font-size="10.2" text-anchor="middle" fill="#000" stroke="#000" stroke-width="0.0" >Vehicle</text>
<text x="323.2" y="698.4" font-size="10.2" text-anchor="middle" fill="#1f3dff" stroke="#1f3dff" stroke-width="0.0" >ASNase</text>
<text x="379" y="698.4" font-size="10.2" text-anchor="middle" fill="#000" stroke="#000" stroke-width="0.0" >Vehicle</text>
<text x="441.7" y="698.4" font-size="10.2" text-anchor="middle" fill="#1f3dff" stroke="#1f3dff" stroke-width="0.0" >ASNase</text>
<line x1="255.4" y1="707.2" x2="295.7" y2="707.2" stroke="#000" stroke-width="1.2" />
<line x1="302.2" y1="707.2" x2="342.5" y2="707.2" stroke="#000" stroke-width="1.2" />
<line x1="350" y1="707.2" x2="408.2" y2="707.2" stroke="#000" stroke-width="1.2" />
<line x1="412.5" y1="707.2" x2="471.3" y2="707.2" stroke="#000" stroke-width="1.2" />
<text x="261.4" y="724.6" font-size="8.2" text-anchor="start" fill="#000" stroke="#000" stroke-width="0.0" transform="rotate(-90 261.4 724.6)" textLength="11.8" lengthAdjust="spacingAndGlyphs">661</text>
<text x="278.9" y="724.6" font-size="8.2" text-anchor="start" fill="#000" stroke="#000" stroke-width="0.0" transform="rotate(-90 278.9 724.6)" textLength="11.8" lengthAdjust="spacingAndGlyphs">662</text>
<text x="294.4" y="724.6" font-size="8.2" text-anchor="start" fill="#000" stroke="#000" stroke-width="0.0" transform="rotate(-90 294.4 724.6)" textLength="11.8" lengthAdjust="spacingAndGlyphs">674</text>
<text x="308.8" y="724.6" font-size="8.2" text-anchor="start" fill="#000" stroke="#000" stroke-width="0.0" transform="rotate(-90 308.8 724.6)" textLength="11.8" lengthAdjust="spacingAndGlyphs">680</text>
<text x="325.3" y="724.6" font-size="8.2" text-anchor="start" fill="#000" stroke="#000" stroke-width="0.0" transform="rotate(-90 325.3 724.6)" textLength="11.8" lengthAdjust="spacingAndGlyphs">669</text>
<text x="341.9" y="724.6" font-size="8.2" text-anchor="start" fill="#000" stroke="#000" stroke-width="0.0" transform="rotate(-90 341.9 724.6)" textLength="11.8" lengthAdjust="spacingAndGlyphs">677</text>
<text x="356.9" y="724.6" font-size="8.2" text-anchor="start" fill="#000" stroke="#000" stroke-width="0.0" transform="rotate(-90 356.9 724.6)" textLength="11.8" lengthAdjust="spacingAndGlyphs">683</text>
<text x="371.8" y="724.6" font-size="8.2" text-anchor="start" fill="#000" stroke="#000" stroke-width="0.0" transform="rotate(-90 371.8 724.6)" textLength="11.8" lengthAdjust="spacingAndGlyphs">686</text>
<text x="388.4" y="724.6" font-size="8.2" text-anchor="start" fill="#000" stroke="#000" stroke-width="0.0" transform="rotate(-90 388.4 724.6)" textLength="11.8" lengthAdjust="spacingAndGlyphs">687</text>
<text x="405.5" y="724.6" font-size="8.2" text-anchor="start" fill="#000" stroke="#000" stroke-width="0.0" transform="rotate(-90 405.5 724.6)" textLength="11.8" lengthAdjust="spacingAndGlyphs">689</text>
<text x="419.9" y="724.6" font-size="8.2" text-anchor="start" fill="#000" stroke="#000" stroke-width="0.0" transform="rotate(-90 419.9 724.6)" textLength="11.8" lengthAdjust="spacingAndGlyphs">691</text>
<text x="436.5" y="724.6" font-size="8.2" text-anchor="start" fill="#000" stroke="#000" stroke-width="0.0" transform="rotate(-90 436.5 724.6)" textLength="11.8" lengthAdjust="spacingAndGlyphs">692</text>
<text x="452.2" y="724.6" font-size="8.2" text-anchor="start" fill="#000" stroke="#000" stroke-width="0.0" transform="rotate(-90 452.2 724.6)" textLength="11.8" lengthAdjust="spacingAndGlyphs">698</text>
<text x="468" y="724.6" font-size="8.2" text-anchor="start" fill="#000" stroke="#000" stroke-width="0.0" transform="rotate(-90 468 724.6)" textLength="11.8" lengthAdjust="spacingAndGlyphs">699</text>
<text x="475" y="724" font-size="7.8" text-anchor="start" fill="#000" stroke="#000" stroke-width="0.0" >: mouse #</text>
<rect x="243.8" y="732.8" width="233.1" height="30.5" fill="#f2f2f2" stroke="#1a1a1a" stroke-width="1.2" />
<rect x="249" y="747.1" width="14.6" height="3.8" rx="2" fill="#000" fill-opacity="0.92" filter="url(#bl3)"/>
<rect x="264.95" y="747.1" width="14.6" height="3.8" rx="2" fill="#000" fill-opacity="0.98" filter="url(#bl3)"/>
<rect x="280.9" y="747.1" width="14.6" height="3.8" rx="2" fill="#000" fill-opacity="1" filter="url(#bl3)"/>
<rect x="296.85" y="747.1" width="14.6" height="3.8" rx="2" fill="#000" fill-opacity="1" filter="url(#bl3)"/>
<rect x="312.8" y="747.1" width="14.6" height="3.8" rx="2" fill="#000" fill-opacity="1" filter="url(#bl3)"/>
<rect x="328.75" y="747.1" width="14.6" height="3.8" rx="2" fill="#000" fill-opacity="1" filter="url(#bl3)"/>
<rect x="344.7" y="747.1" width="14.6" height="3.8" rx="2" fill="#000" fill-opacity="0.63" filter="url(#bl3)"/>
<rect x="360.65" y="747.1" width="14.6" height="3.8" rx="2" fill="#000" fill-opacity="0.52" filter="url(#bl3)"/>
<rect x="376.6" y="747.1" width="14.6" height="3.8" rx="2" fill="#000" fill-opacity="0.14" filter="url(#bl3)"/>
<rect x="392.55" y="747.1" width="14.6" height="3.8" rx="2" fill="#000" fill-opacity="0.03" filter="url(#bl3)"/>
<rect x="408.5" y="747.1" width="14.6" height="3.8" rx="2" fill="#000" fill-opacity="0.21" filter="url(#bl3)"/>
<rect x="424.45" y="747.1" width="14.6" height="3.8" rx="2" fill="#000" fill-opacity="0.46" filter="url(#bl3)"/>
<rect x="440.4" y="747.1" width="14.6" height="3.8" rx="2" fill="#000" fill-opacity="0.63" filter="url(#bl3)"/>
<rect x="456.35" y="747.1" width="14.6" height="3.8" rx="2" fill="#000" fill-opacity="0.34" filter="url(#bl3)"/>
<text x="482" y="754.2" font-size="11.5" text-anchor="start" fill="#000" stroke="#000" stroke-width="0.0" >PHGDH</text>
<line x1="239.2" y1="748.3" x2="243.6" y2="748.3" stroke="#000" stroke-width="1" />
<text x="238" y="751" font-size="7.7" text-anchor="end" fill="#000" stroke="#000" stroke-width="0.0" >55 kDa</text>
<rect x="243.8" y="765.5" width="233.1" height="31.1" fill="#f2f2f2" stroke="#1a1a1a" stroke-width="1.2" />
<rect x="249" y="779.4" width="14.6" height="3.8" rx="2" fill="#000" fill-opacity="0.25" filter="url(#bl3)"/>
<rect x="264.95" y="779.4" width="14.6" height="3.8" rx="2" fill="#000" fill-opacity="0.31" filter="url(#bl3)"/>
<rect x="280.9" y="779.4" width="14.6" height="3.8" rx="2" fill="#000" fill-opacity="0.28" filter="url(#bl3)"/>
<rect x="296.85" y="779.4" width="14.6" height="3.8" rx="2" fill="#000" fill-opacity="0.8" filter="url(#bl3)"/>
<rect x="312.8" y="779.4" width="14.6" height="3.8" rx="2" fill="#000" fill-opacity="1" filter="url(#bl3)"/>
<rect x="328.75" y="779.4" width="14.6" height="3.8" rx="2" fill="#000" fill-opacity="1" filter="url(#bl3)"/>
<rect x="344.7" y="779.4" width="14.6" height="3.8" rx="2" fill="#000" fill-opacity="0.37" filter="url(#bl3)"/>
<rect x="360.65" y="779.4" width="14.6" height="3.8" rx="2" fill="#000" fill-opacity="0.46" filter="url(#bl3)"/>
<rect x="376.6" y="779.4" width="14.6" height="3.8" rx="2" fill="#000" fill-opacity="0.34" filter="url(#bl3)"/>
<rect x="392.55" y="779.4" width="14.6" height="3.8" rx="2" fill="#000" fill-opacity="0.31" filter="url(#bl3)"/>
<rect x="408.5" y="779.4" width="14.6" height="3.8" rx="2" fill="#000" fill-opacity="0.63" filter="url(#bl3)"/>
<rect x="424.45" y="779.4" width="14.6" height="3.8" rx="2" fill="#000" fill-opacity="0.92" filter="url(#bl3)"/>
<rect x="440.4" y="779.4" width="14.6" height="3.8" rx="2" fill="#000" fill-opacity="0.98" filter="url(#bl3)"/>
<rect x="456.35" y="779.4" width="14.6" height="3.8" rx="2" fill="#000" fill-opacity="0.57" filter="url(#bl3)"/>
<text x="482" y="787.3" font-size="11.5" text-anchor="start" fill="#000" stroke="#000" stroke-width="0.0" >PSAT1</text>
<line x1="239.2" y1="777" x2="243.6" y2="777" stroke="#000" stroke-width="1" />
<text x="238" y="779.7" font-size="7.7" text-anchor="end" fill="#000" stroke="#000" stroke-width="0.0" >40 kDa</text>
<rect x="243.8" y="799.2" width="233.1" height="25.6" fill="#f2f2f2" stroke="#1a1a1a" stroke-width="1.2" />
<rect x="249" y="809" width="14.6" height="4.2" rx="2" fill="#000" fill-opacity="1" filter="url(#bl3)"/>
<rect x="264.95" y="809" width="14.6" height="4.2" rx="2" fill="#000" fill-opacity="1" filter="url(#bl3)"/>
<rect x="280.9" y="809" width="14.6" height="4.2" rx="2" fill="#000" fill-opacity="1" filter="url(#bl3)"/>
<rect x="296.85" y="809" width="14.6" height="4.2" rx="2" fill="#000" fill-opacity="0.86" filter="url(#bl3)"/>
<rect x="312.8" y="809" width="14.6" height="4.2" rx="2" fill="#000" fill-opacity="0.86" filter="url(#bl3)"/>
<rect x="328.75" y="809" width="14.6" height="4.2" rx="2" fill="#000" fill-opacity="0.8" filter="url(#bl3)"/>
<rect x="344.7" y="809" width="14.6" height="4.2" rx="2" fill="#000" fill-opacity="0.86" filter="url(#bl3)"/>
<rect x="360.65" y="809" width="14.6" height="4.2" rx="2" fill="#000" fill-opacity="0.98" filter="url(#bl3)"/>
<rect x="376.6" y="809" width="14.6" height="4.2" rx="2" fill="#000" fill-opacity="0.69" filter="url(#bl3)"/>
<rect x="392.55" y="809" width="14.6" height="4.2" rx="2" fill="#000" fill-opacity="0.8" filter="url(#bl3)"/>
<rect x="408.5" y="809" width="14.6" height="4.2" rx="2" fill="#000" fill-opacity="0.8" filter="url(#bl3)"/>
<rect x="424.45" y="809" width="14.6" height="4.2" rx="2" fill="#000" fill-opacity="0.86" filter="url(#bl3)"/>
<rect x="440.4" y="809" width="14.6" height="4.2" rx="2" fill="#000" fill-opacity="0.92" filter="url(#bl3)"/>
<rect x="456.35" y="809" width="14.6" height="4.2" rx="2" fill="#000" fill-opacity="0.69" filter="url(#bl3)"/>
<text x="482" y="816.7" font-size="11.5" text-anchor="start" fill="#000" stroke="#000" stroke-width="0.0" >ERK2</text>
<line x1="239.2" y1="808.8" x2="243.6" y2="808.8" stroke="#000" stroke-width="1" />
<text x="238" y="811.5" font-size="7.7" text-anchor="end" fill="#000" stroke="#000" stroke-width="0.0" >40 kDa</text>
<rect x="243.8" y="837.2" width="233.1" height="30.2" fill="#f2f2f2" stroke="#1a1a1a" stroke-width="1.2" />
<rect x="249" y="849.4" width="14.6" height="4.4" rx="2" fill="#000" fill-opacity="0.25" filter="url(#bl3)"/>
<rect x="264.95" y="849.4" width="14.6" height="4.4" rx="2" fill="#000" fill-opacity="0.52" filter="url(#bl3)"/>
<rect x="265.75" y="854.6" width="13" height="4" fill="#000" fill-opacity="0.05" filter="url(#bl3)"/>
<rect x="280.9" y="849.4" width="14.6" height="4.4" rx="2" fill="#000" fill-opacity="0.4" filter="url(#bl3)"/>
<rect x="296.85" y="849.4" width="14.6" height="4.4" rx="2" fill="#000" fill-opacity="0.98" filter="url(#bl3)"/>
<rect x="297.65" y="854.6" width="13" height="4" fill="#000" fill-opacity="0.1" filter="url(#bl3)"/>
<rect x="312.8" y="849.4" width="14.6" height="4.4" rx="2" fill="#000" fill-opacity="1" filter="url(#bl3)"/>
<rect x="313.6" y="854.6" width="13" height="4" fill="#000" fill-opacity="0.11" filter="url(#bl3)"/>
<rect x="328.75" y="849.4" width="14.6" height="4.4" rx="2" fill="#000" fill-opacity="0.98" filter="url(#bl3)"/>
<rect x="329.55" y="854.6" width="13" height="4" fill="#000" fill-opacity="0.1" filter="url(#bl3)"/>
<rect x="344.7" y="849.4" width="14.6" height="4.4" rx="2" fill="#000" fill-opacity="0.34" filter="url(#bl3)"/>
<rect x="360.65" y="849.4" width="14.6" height="4.4" rx="2" fill="#000" fill-opacity="0.32" filter="url(#bl3)"/>
<rect x="376.6" y="849.4" width="14.6" height="4.4" rx="2" fill="#000" fill-opacity="0.29" filter="url(#bl3)"/>
<rect x="392.55" y="849.4" width="14.6" height="4.4" rx="2" fill="#000" fill-opacity="0.48" filter="url(#bl3)"/>
<rect x="393.35" y="854.6" width="13" height="4" fill="#000" fill-opacity="0.05" filter="url(#bl3)"/>
<rect x="408.5" y="849.4" width="14.6" height="4.4" rx="2" fill="#000" fill-opacity="1" filter="url(#bl3)"/>
<rect x="409.3" y="854.6" width="13" height="4" fill="#000" fill-opacity="0.11" filter="url(#bl3)"/>
<rect x="424.45" y="849.4" width="14.6" height="4.4" rx="2" fill="#000" fill-opacity="1" filter="url(#bl3)"/>
<rect x="425.25" y="854.6" width="13" height="4" fill="#000" fill-opacity="0.11" filter="url(#bl3)"/>
<rect x="440.4" y="849.4" width="14.6" height="4.4" rx="2" fill="#000" fill-opacity="0.86" filter="url(#bl3)"/>
<rect x="441.2" y="854.6" width="13" height="4" fill="#000" fill-opacity="0.09" filter="url(#bl3)"/>
<rect x="456.35" y="849.4" width="14.6" height="4.4" rx="2" fill="#000" fill-opacity="0.8" filter="url(#bl3)"/>
<rect x="457.15" y="854.6" width="13" height="4" fill="#000" fill-opacity="0.08" filter="url(#bl3)"/>
<text x="482" y="856.9" font-size="11.5" text-anchor="start" fill="#000" stroke="#000" stroke-width="0.0" >ASNS</text>
<line x1="239.2" y1="840.3" x2="243.6" y2="840.3" stroke="#000" stroke-width="1" />
<text x="238" y="843" font-size="7.7" text-anchor="end" fill="#000" stroke="#000" stroke-width="0.0" >70 kDa</text>
<line x1="239.2" y1="864" x2="243.6" y2="864" stroke="#000" stroke-width="1" />
<text x="238" y="866.7" font-size="7.7" text-anchor="end" fill="#000" stroke="#000" stroke-width="0.0" >55 kDa</text>
<rect x="243.8" y="870.3" width="233.1" height="19.3" fill="#f2f2f2" stroke="#1a1a1a" stroke-width="1.2" />
<rect x="249" y="878" width="14.6" height="3.6" rx="2" fill="#000" fill-opacity="1" filter="url(#bl3)"/>
<rect x="264.95" y="878" width="14.6" height="3.6" rx="2" fill="#000" fill-opacity="0.98" filter="url(#bl3)"/>
<rect x="280.9" y="878" width="14.6" height="3.6" rx="2" fill="#000" fill-opacity="0.98" filter="url(#bl3)"/>
<rect x="296.85" y="878" width="14.6" height="3.6" rx="2" fill="#000" fill-opacity="0.94" filter="url(#bl3)"/>
<rect x="312.8" y="878" width="14.6" height="3.6" rx="2" fill="#000" fill-opacity="0.98" filter="url(#bl3)"/>
<rect x="328.75" y="878" width="14.6" height="3.6" rx="2" fill="#000" fill-opacity="0.98" filter="url(#bl3)"/>
<rect x="344.7" y="878" width="14.6" height="3.6" rx="2" fill="#000" fill-opacity="0.98" filter="url(#bl3)"/>
<rect x="360.65" y="878" width="14.6" height="3.6" rx="2" fill="#000" fill-opacity="1" filter="url(#bl3)"/>
<rect x="376.6" y="878" width="14.6" height="3.6" rx="2" fill="#000" fill-opacity="0.9" filter="url(#bl3)"/>
<rect x="392.55" y="878" width="14.6" height="3.6" rx="2" fill="#000" fill-opacity="0.92" filter="url(#bl3)"/>
<rect x="408.5" y="878" width="14.6" height="3.6" rx="2" fill="#000" fill-opacity="0.86" filter="url(#bl3)"/>
<rect x="424.45" y="878" width="14.6" height="3.6" rx="2" fill="#000" fill-opacity="0.98" filter="url(#bl3)"/>
<rect x="440.4" y="878" width="14.6" height="3.6" rx="2" fill="#000" fill-opacity="1" filter="url(#bl3)"/>
<rect x="456.35" y="878" width="14.6" height="3.6" rx="2" fill="#000" fill-opacity="0.92" filter="url(#bl3)"/>
<text x="482" y="884.4" font-size="11.5" text-anchor="start" fill="#000" stroke="#000" stroke-width="0.0" >ERK2</text>
<line x1="239.2" y1="877.1" x2="243.6" y2="877.1" stroke="#000" stroke-width="1" />
<text x="238" y="879.8" font-size="7.7" text-anchor="end" fill="#000" stroke="#000" stroke-width="0.0" >40 kDa</text>
<text x="531.8" y="667.8" font-size="17" text-anchor="start" fill="#000" stroke="#000" stroke-width="0.2" font-weight="bold" >j.</text>
<text x="613.1" y="670.8" font-size="11" text-anchor="middle" fill="#000" stroke="#000" stroke-width="0.2" font-weight="bold" >PHGDH/ERK2</text>
<line x1="577.7" y1="707.5" x2="577.7" y2="813.2" stroke="#000" stroke-width="1.3" />
<line x1="573.3" y1="813.2" x2="577.7" y2="813.2" stroke="#000" stroke-width="1.3" />
<text x="571.6" y="816.8" font-size="10.2" text-anchor="end" fill="#000" stroke="#000" stroke-width="0.2" font-weight="bold" >0</text>
<line x1="575.1" y1="795.68" x2="577.7" y2="795.68" stroke="#000" stroke-width="1.1" />
<line x1="573.3" y1="778.17" x2="577.7" y2="778.17" stroke="#000" stroke-width="1.3" />
<text x="571.6" y="781.77" font-size="10.2" text-anchor="end" fill="#000" stroke="#000" stroke-width="0.2" font-weight="bold" >1</text>
<line x1="575.1" y1="760.65" x2="577.7" y2="760.65" stroke="#000" stroke-width="1.1" />
<line x1="573.3" y1="743.13" x2="577.7" y2="743.13" stroke="#000" stroke-width="1.3" />
<text x="571.6" y="746.73" font-size="10.2" text-anchor="end" fill="#000" stroke="#000" stroke-width="0.2" font-weight="bold" >2</text>
<line x1="575.1" y1="725.62" x2="577.7" y2="725.62" stroke="#000" stroke-width="1.1" />
<line x1="573.3" y1="708.1" x2="577.7" y2="708.1" stroke="#000" stroke-width="1.3" />
<text x="571.6" y="711.7" font-size="10.2" text-anchor="end" fill="#000" stroke="#000" stroke-width="0.2" font-weight="bold" >3</text>
<line x1="573.2" y1="813.2" x2="652.6" y2="813.2" stroke="#000" stroke-width="1.3" />
<text x="558.2" y="759.6" font-size="9.9" text-anchor="middle" fill="#000" stroke="#000" stroke-width="0.2" font-weight="bold" transform="rotate(-90 558.2 759.6)" >Relative levels</text>
<rect x="583.9" y="778.17" width="12.6" height="35.03" fill="#000" stroke="none" stroke-width="0" />
<line x1="590.2" y1="778.17" x2="590.2" y2="768.71" stroke="#000" stroke-width="1.1" />
<line x1="587.2" y1="768.71" x2="593.2" y2="768.71" stroke="#000" stroke-width="1.1" />
<line x1="590.2" y1="813.2" x2="590.2" y2="817.5" stroke="#000" stroke-width="1.3" />
<rect x="600.5" y="739.98" width="12.6" height="73.22" fill="#000" stroke="none" stroke-width="0" />
<line x1="606.8" y1="739.98" x2="606.8" y2="732.62" stroke="#000" stroke-width="1.1" />
<line x1="603.8" y1="732.62" x2="609.8" y2="732.62" stroke="#000" stroke-width="1.1" />
<line x1="606.8" y1="813.2" x2="606.8" y2="817.5" stroke="#000" stroke-width="1.3" />
<rect x="617.1" y="800.94" width="12.6" height="12.26" fill="#000" stroke="none" stroke-width="0" />
<line x1="623.4" y1="800.94" x2="623.4" y2="792.18" stroke="#000" stroke-width="1.1" />
<line x1="620.4" y1="792.18" x2="626.4" y2="792.18" stroke="#000" stroke-width="1.1" />
<line x1="623.4" y1="813.2" x2="623.4" y2="817.5" stroke="#000" stroke-width="1.3" />
<rect x="633.7" y="797.08" width="12.6" height="16.12" fill="#000" stroke="none" stroke-width="0" />
<line x1="640" y1="797.08" x2="640" y2="792.18" stroke="#000" stroke-width="1.1" />
<line x1="637" y1="792.18" x2="643" y2="792.18" stroke="#000" stroke-width="1.1" />
<line x1="640" y1="813.2" x2="640" y2="817.5" stroke="#000" stroke-width="1.3" />
<path d="M590.3 766L593.1 768.8L590.3 771.6L587.5 768.8Z" fill="#fff" stroke="#000" stroke-width="0.9"/>
<circle cx="590.3" cy="778.7" r="2.3" fill="#fff" stroke="#000" stroke-width="0.8"/>
<circle cx="590.3" cy="786.8" r="2.3" fill="#fff" stroke="#000" stroke-width="0.8"/>
<circle cx="602.5" cy="733.8" r="2.3" fill="#fff" stroke="#000" stroke-width="0.8"/>
<circle cx="611" cy="737.9" r="2.3" fill="#fff" stroke="#000" stroke-width="0.8"/>
<circle cx="606.9" cy="747.6" r="2.3" fill="#fff" stroke="#000" stroke-width="0.8"/>
<circle cx="619" cy="794" r="2.3" fill="#fff" stroke="#000" stroke-width="0.8"/>
<circle cx="627.7" cy="793.6" r="2.3" fill="#fff" stroke="#000" stroke-width="0.8"/>
<circle cx="623.5" cy="805.6" r="2.3" fill="#fff" stroke="#000" stroke-width="0.8"/>
<circle cx="623.5" cy="812.4" r="2.3" fill="#fff" stroke="#000" stroke-width="0.8"/>
<circle cx="635.2" cy="793.6" r="2.3" fill="#fff" stroke="#000" stroke-width="0.8"/>
<circle cx="643.8" cy="792.5" r="2.3" fill="#fff" stroke="#000" stroke-width="0.8"/>
<circle cx="645.1" cy="797.2" r="2.3" fill="#fff" stroke="#000" stroke-width="0.8"/>
<circle cx="640" cy="804.4" r="2.3" fill="#fff" stroke="#000" stroke-width="0.8"/>
<text x="590.2" y="831.5" font-size="10" text-anchor="middle" fill="#000" stroke="#000" stroke-width="0.0" >V</text>
<text x="606.8" y="831.5" font-size="10" text-anchor="middle" fill="#1f3dff" stroke="#1f3dff" stroke-width="0.0" >A</text>
<text x="623.4" y="831.5" font-size="10" text-anchor="middle" fill="#000" stroke="#000" stroke-width="0.0" >V</text>
<text x="640" y="831.5" font-size="10" text-anchor="middle" fill="#1f3dff" stroke="#1f3dff" stroke-width="0.0" >A</text>
<line x1="586.3" y1="836.4" x2="611.7" y2="836.4" stroke="#000" stroke-width="1.2" />
<line x1="618.7" y1="836.4" x2="644.4" y2="836.4" stroke="#000" stroke-width="1.2" />
<line x1="631.5" y1="836.4" x2="631.5" y2="859.6" stroke="#000" stroke-width="1.2" />
<text x="599.3" y="852.6" font-size="11.4" text-anchor="middle" fill="#000" stroke="#000" stroke-width="0.0" >shSCR</text>
<text x="631.1" y="872.7" font-size="11.4" text-anchor="middle" fill="#ff1a1a" stroke="#ff1a1a" stroke-width="0.0" >sh<tspan font-style="italic">Phgdh</tspan> #1</text>
<polyline points="607.4,693.4 607.4,690.7 639.7,690.7 639.7,767.9" fill="none" stroke="#000" stroke-width="1.3" stroke-linejoin="miter" />
<text x="624.4" y="687.4" font-size="10.5" text-anchor="middle" fill="#000" stroke="#000" stroke-width="0.15" >***</text>
<polyline points="590.3,710.4 590.3,707.2 623.5,707.2 623.5,768.4" fill="none" stroke="#000" stroke-width="1.3" stroke-linejoin="miter" />
<text x="607.9" y="704.3" font-size="10.5" text-anchor="middle" fill="#000" stroke="#000" stroke-width="0.15" >*</text>
<polyline points="590.3,758.9 590.3,722.5 606.8,722.5 606.8,725.7" fill="none" stroke="#000" stroke-width="1.3" stroke-linejoin="miter" />
<text x="599.3" y="719.6" font-size="10.5" text-anchor="middle" fill="#000" stroke="#000" stroke-width="0.15" >**</text>
<polyline points="623.5,785.9 623.5,782.6 639.7,782.6 639.7,785.9" fill="none" stroke="#000" stroke-width="1.3" stroke-linejoin="miter" />
<text x="631.6" y="778.7" font-size="10.5" text-anchor="middle" fill="#000" stroke="#000" stroke-width="0.0" font-style="italic" >ns</text>
</svg></body></html>
